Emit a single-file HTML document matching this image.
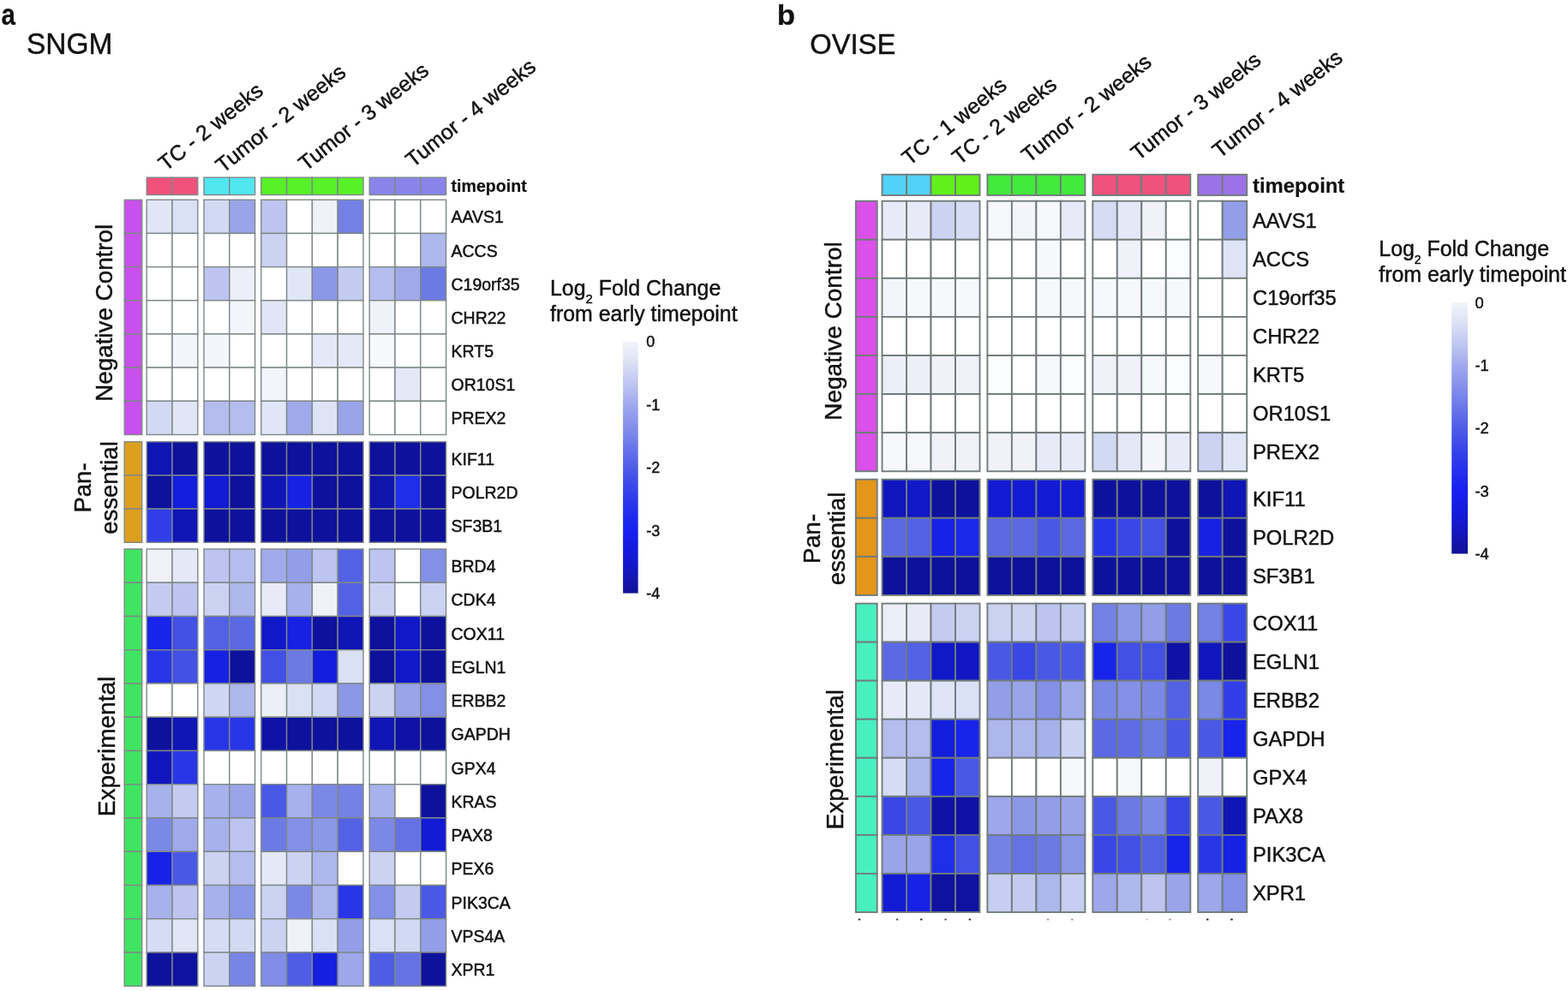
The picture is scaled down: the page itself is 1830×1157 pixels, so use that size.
<!DOCTYPE html>
<html><head><meta charset="utf-8"><title>Heatmaps</title>
<style>
html,body{margin:0;padding:0;background:#fff;}
body{width:1830px;height:1157px;overflow:hidden;}
svg{display:block;}
svg text{font-family:'Liberation Sans', Arial, Helvetica, sans-serif;fill:#111;stroke:#111;stroke-width:0.45px;}
svg text[font-weight=bold]{stroke-width:0.2px;}
</style></head><body>
<svg width="1830" height="1157" viewBox="0 0 1830 1157">
<rect x="0" y="0" width="1830" height="1157" fill="#ffffff"/>
<rect x="171.20" y="233.30" width="29.80" height="39.17" fill="#e1e6f6" stroke="#7e8888" stroke-width="1.40"/>
<rect x="201.00" y="233.30" width="29.80" height="39.17" fill="#dae0f5" stroke="#7e8888" stroke-width="1.40"/>
<rect x="238.00" y="233.30" width="29.80" height="39.17" fill="#d2d9f3" stroke="#7e8888" stroke-width="1.40"/>
<rect x="267.80" y="233.30" width="29.80" height="39.17" fill="#9aa4e9" stroke="#7e8888" stroke-width="1.40"/>
<rect x="304.80" y="233.30" width="29.80" height="39.17" fill="#bcc4ef" stroke="#7e8888" stroke-width="1.40"/>
<rect x="334.60" y="233.30" width="29.80" height="39.17" fill="#ffffff" stroke="#7e8888" stroke-width="1.40"/>
<rect x="364.40" y="233.30" width="29.80" height="39.17" fill="#f0f1f9" stroke="#7e8888" stroke-width="1.40"/>
<rect x="394.20" y="233.30" width="29.80" height="39.17" fill="#7481e5" stroke="#7e8888" stroke-width="1.40"/>
<rect x="431.20" y="233.30" width="29.80" height="39.17" fill="#ffffff" stroke="#7e8888" stroke-width="1.40"/>
<rect x="461.00" y="233.30" width="29.80" height="39.17" fill="#ffffff" stroke="#7e8888" stroke-width="1.40"/>
<rect x="490.80" y="233.30" width="29.80" height="39.17" fill="#ffffff" stroke="#7e8888" stroke-width="1.40"/>
<text x="526.50" y="260.38" font-size="19.50">AAVS1</text>
<rect x="171.20" y="272.47" width="29.80" height="39.17" fill="#ffffff" stroke="#7e8888" stroke-width="1.40"/>
<rect x="201.00" y="272.47" width="29.80" height="39.17" fill="#ffffff" stroke="#7e8888" stroke-width="1.40"/>
<rect x="238.00" y="272.47" width="29.80" height="39.17" fill="#ffffff" stroke="#7e8888" stroke-width="1.40"/>
<rect x="267.80" y="272.47" width="29.80" height="39.17" fill="#ffffff" stroke="#7e8888" stroke-width="1.40"/>
<rect x="304.80" y="272.47" width="29.80" height="39.17" fill="#cbd2f2" stroke="#7e8888" stroke-width="1.40"/>
<rect x="334.60" y="272.47" width="29.80" height="39.17" fill="#ffffff" stroke="#7e8888" stroke-width="1.40"/>
<rect x="364.40" y="272.47" width="29.80" height="39.17" fill="#ffffff" stroke="#7e8888" stroke-width="1.40"/>
<rect x="394.20" y="272.47" width="29.80" height="39.17" fill="#ffffff" stroke="#7e8888" stroke-width="1.40"/>
<rect x="431.20" y="272.47" width="29.80" height="39.17" fill="#ffffff" stroke="#7e8888" stroke-width="1.40"/>
<rect x="461.00" y="272.47" width="29.80" height="39.17" fill="#ffffff" stroke="#7e8888" stroke-width="1.40"/>
<rect x="490.80" y="272.47" width="29.80" height="39.17" fill="#adb7ec" stroke="#7e8888" stroke-width="1.40"/>
<text x="526.50" y="299.56" font-size="19.50">ACCS</text>
<rect x="171.20" y="311.64" width="29.80" height="39.17" fill="#ffffff" stroke="#7e8888" stroke-width="1.40"/>
<rect x="201.00" y="311.64" width="29.80" height="39.17" fill="#ffffff" stroke="#7e8888" stroke-width="1.40"/>
<rect x="238.00" y="311.64" width="29.80" height="39.17" fill="#bcc4ef" stroke="#7e8888" stroke-width="1.40"/>
<rect x="267.80" y="311.64" width="29.80" height="39.17" fill="#eceef8" stroke="#7e8888" stroke-width="1.40"/>
<rect x="304.80" y="311.64" width="29.80" height="39.17" fill="#ffffff" stroke="#7e8888" stroke-width="1.40"/>
<rect x="334.60" y="311.64" width="29.80" height="39.17" fill="#e1e6f6" stroke="#7e8888" stroke-width="1.40"/>
<rect x="364.40" y="311.64" width="29.80" height="39.17" fill="#8b97e7" stroke="#7e8888" stroke-width="1.40"/>
<rect x="394.20" y="311.64" width="29.80" height="39.17" fill="#c3cbf0" stroke="#7e8888" stroke-width="1.40"/>
<rect x="431.20" y="311.64" width="29.80" height="39.17" fill="#b4bded" stroke="#7e8888" stroke-width="1.40"/>
<rect x="461.00" y="311.64" width="29.80" height="39.17" fill="#a0aaea" stroke="#7e8888" stroke-width="1.40"/>
<rect x="490.80" y="311.64" width="29.80" height="39.17" fill="#6c7ae4" stroke="#7e8888" stroke-width="1.40"/>
<text x="526.50" y="338.72" font-size="19.50">C19orf35</text>
<rect x="171.20" y="350.81" width="29.80" height="39.17" fill="#ffffff" stroke="#7e8888" stroke-width="1.40"/>
<rect x="201.00" y="350.81" width="29.80" height="39.17" fill="#ffffff" stroke="#7e8888" stroke-width="1.40"/>
<rect x="238.00" y="350.81" width="29.80" height="39.17" fill="#ffffff" stroke="#7e8888" stroke-width="1.40"/>
<rect x="267.80" y="350.81" width="29.80" height="39.17" fill="#f4f5fb" stroke="#7e8888" stroke-width="1.40"/>
<rect x="304.80" y="350.81" width="29.80" height="39.17" fill="#e1e6f6" stroke="#7e8888" stroke-width="1.40"/>
<rect x="334.60" y="350.81" width="29.80" height="39.17" fill="#ffffff" stroke="#7e8888" stroke-width="1.40"/>
<rect x="364.40" y="350.81" width="29.80" height="39.17" fill="#ffffff" stroke="#7e8888" stroke-width="1.40"/>
<rect x="394.20" y="350.81" width="29.80" height="39.17" fill="#ffffff" stroke="#7e8888" stroke-width="1.40"/>
<rect x="431.20" y="350.81" width="29.80" height="39.17" fill="#f0f1f9" stroke="#7e8888" stroke-width="1.40"/>
<rect x="461.00" y="350.81" width="29.80" height="39.17" fill="#ffffff" stroke="#7e8888" stroke-width="1.40"/>
<rect x="490.80" y="350.81" width="29.80" height="39.17" fill="#ffffff" stroke="#7e8888" stroke-width="1.40"/>
<text x="526.50" y="377.89" font-size="19.50">CHR22</text>
<rect x="171.20" y="389.98" width="29.80" height="39.17" fill="#ffffff" stroke="#7e8888" stroke-width="1.40"/>
<rect x="201.00" y="389.98" width="29.80" height="39.17" fill="#f4f5fb" stroke="#7e8888" stroke-width="1.40"/>
<rect x="238.00" y="389.98" width="29.80" height="39.17" fill="#f4f5fb" stroke="#7e8888" stroke-width="1.40"/>
<rect x="267.80" y="389.98" width="29.80" height="39.17" fill="#ffffff" stroke="#7e8888" stroke-width="1.40"/>
<rect x="304.80" y="389.98" width="29.80" height="39.17" fill="#ffffff" stroke="#7e8888" stroke-width="1.40"/>
<rect x="334.60" y="389.98" width="29.80" height="39.17" fill="#ffffff" stroke="#7e8888" stroke-width="1.40"/>
<rect x="364.40" y="389.98" width="29.80" height="39.17" fill="#e5e8f7" stroke="#7e8888" stroke-width="1.40"/>
<rect x="394.20" y="389.98" width="29.80" height="39.17" fill="#e5e8f7" stroke="#7e8888" stroke-width="1.40"/>
<rect x="431.20" y="389.98" width="29.80" height="39.17" fill="#f7f8fc" stroke="#7e8888" stroke-width="1.40"/>
<rect x="461.00" y="389.98" width="29.80" height="39.17" fill="#ffffff" stroke="#7e8888" stroke-width="1.40"/>
<rect x="490.80" y="389.98" width="29.80" height="39.17" fill="#ffffff" stroke="#7e8888" stroke-width="1.40"/>
<text x="526.50" y="417.06" font-size="19.50">KRT5</text>
<rect x="171.20" y="429.15" width="29.80" height="39.17" fill="#ffffff" stroke="#7e8888" stroke-width="1.40"/>
<rect x="201.00" y="429.15" width="29.80" height="39.17" fill="#ffffff" stroke="#7e8888" stroke-width="1.40"/>
<rect x="238.00" y="429.15" width="29.80" height="39.17" fill="#ffffff" stroke="#7e8888" stroke-width="1.40"/>
<rect x="267.80" y="429.15" width="29.80" height="39.17" fill="#ffffff" stroke="#7e8888" stroke-width="1.40"/>
<rect x="304.80" y="429.15" width="29.80" height="39.17" fill="#f4f5fb" stroke="#7e8888" stroke-width="1.40"/>
<rect x="334.60" y="429.15" width="29.80" height="39.17" fill="#ffffff" stroke="#7e8888" stroke-width="1.40"/>
<rect x="364.40" y="429.15" width="29.80" height="39.17" fill="#ffffff" stroke="#7e8888" stroke-width="1.40"/>
<rect x="394.20" y="429.15" width="29.80" height="39.17" fill="#ffffff" stroke="#7e8888" stroke-width="1.40"/>
<rect x="431.20" y="429.15" width="29.80" height="39.17" fill="#ffffff" stroke="#7e8888" stroke-width="1.40"/>
<rect x="461.00" y="429.15" width="29.80" height="39.17" fill="#e5e8f7" stroke="#7e8888" stroke-width="1.40"/>
<rect x="490.80" y="429.15" width="29.80" height="39.17" fill="#ffffff" stroke="#7e8888" stroke-width="1.40"/>
<text x="526.50" y="456.24" font-size="19.50">OR10S1</text>
<rect x="171.20" y="468.32" width="29.80" height="39.17" fill="#d2d9f3" stroke="#7e8888" stroke-width="1.40"/>
<rect x="201.00" y="468.32" width="29.80" height="39.17" fill="#e1e6f6" stroke="#7e8888" stroke-width="1.40"/>
<rect x="238.00" y="468.32" width="29.80" height="39.17" fill="#b4bded" stroke="#7e8888" stroke-width="1.40"/>
<rect x="267.80" y="468.32" width="29.80" height="39.17" fill="#b4bded" stroke="#7e8888" stroke-width="1.40"/>
<rect x="304.80" y="468.32" width="29.80" height="39.17" fill="#e1e6f6" stroke="#7e8888" stroke-width="1.40"/>
<rect x="334.60" y="468.32" width="29.80" height="39.17" fill="#a0aaea" stroke="#7e8888" stroke-width="1.40"/>
<rect x="364.40" y="468.32" width="29.80" height="39.17" fill="#dee3f6" stroke="#7e8888" stroke-width="1.40"/>
<rect x="394.20" y="468.32" width="29.80" height="39.17" fill="#9aa4e9" stroke="#7e8888" stroke-width="1.40"/>
<rect x="431.20" y="468.32" width="29.80" height="39.17" fill="#ffffff" stroke="#7e8888" stroke-width="1.40"/>
<rect x="461.00" y="468.32" width="29.80" height="39.17" fill="#ffffff" stroke="#7e8888" stroke-width="1.40"/>
<rect x="490.80" y="468.32" width="29.80" height="39.17" fill="#ffffff" stroke="#7e8888" stroke-width="1.40"/>
<text x="526.50" y="495.41" font-size="19.50">PREX2</text>
<rect x="171.20" y="515.80" width="29.80" height="39.17" fill="#1015b5" stroke="#7e8888" stroke-width="1.40"/>
<rect x="201.00" y="515.80" width="29.80" height="39.17" fill="#0e119b" stroke="#7e8888" stroke-width="1.40"/>
<rect x="238.00" y="515.80" width="29.80" height="39.17" fill="#0e119b" stroke="#7e8888" stroke-width="1.40"/>
<rect x="267.80" y="515.80" width="29.80" height="39.17" fill="#0e119b" stroke="#7e8888" stroke-width="1.40"/>
<rect x="304.80" y="515.80" width="29.80" height="39.17" fill="#0e119b" stroke="#7e8888" stroke-width="1.40"/>
<rect x="334.60" y="515.80" width="29.80" height="39.17" fill="#0e119b" stroke="#7e8888" stroke-width="1.40"/>
<rect x="364.40" y="515.80" width="29.80" height="39.17" fill="#0e119b" stroke="#7e8888" stroke-width="1.40"/>
<rect x="394.20" y="515.80" width="29.80" height="39.17" fill="#0e119b" stroke="#7e8888" stroke-width="1.40"/>
<rect x="431.20" y="515.80" width="29.80" height="39.17" fill="#0e119b" stroke="#7e8888" stroke-width="1.40"/>
<rect x="461.00" y="515.80" width="29.80" height="39.17" fill="#0e119b" stroke="#7e8888" stroke-width="1.40"/>
<rect x="490.80" y="515.80" width="29.80" height="39.17" fill="#0e119b" stroke="#7e8888" stroke-width="1.40"/>
<text x="526.50" y="542.88" font-size="19.50">KIF11</text>
<rect x="171.20" y="554.97" width="29.80" height="39.17" fill="#0e119b" stroke="#7e8888" stroke-width="1.40"/>
<rect x="201.00" y="554.97" width="29.80" height="39.17" fill="#131edc" stroke="#7e8888" stroke-width="1.40"/>
<rect x="238.00" y="554.97" width="29.80" height="39.17" fill="#121bd3" stroke="#7e8888" stroke-width="1.40"/>
<rect x="267.80" y="554.97" width="29.80" height="39.17" fill="#0e119b" stroke="#7e8888" stroke-width="1.40"/>
<rect x="304.80" y="554.97" width="29.80" height="39.17" fill="#1015b5" stroke="#7e8888" stroke-width="1.40"/>
<rect x="334.60" y="554.97" width="29.80" height="39.17" fill="#1621e3" stroke="#7e8888" stroke-width="1.40"/>
<rect x="364.40" y="554.97" width="29.80" height="39.17" fill="#0e119b" stroke="#7e8888" stroke-width="1.40"/>
<rect x="394.20" y="554.97" width="29.80" height="39.17" fill="#0e119b" stroke="#7e8888" stroke-width="1.40"/>
<rect x="431.20" y="554.97" width="29.80" height="39.17" fill="#0f14ac" stroke="#7e8888" stroke-width="1.40"/>
<rect x="461.00" y="554.97" width="29.80" height="39.17" fill="#202de9" stroke="#7e8888" stroke-width="1.40"/>
<rect x="490.80" y="554.97" width="29.80" height="39.17" fill="#0e119b" stroke="#7e8888" stroke-width="1.40"/>
<text x="526.50" y="582.05" font-size="19.50">POLR2D</text>
<rect x="171.20" y="594.14" width="29.80" height="39.17" fill="#313ee8" stroke="#7e8888" stroke-width="1.40"/>
<rect x="201.00" y="594.14" width="29.80" height="39.17" fill="#1015b5" stroke="#7e8888" stroke-width="1.40"/>
<rect x="238.00" y="594.14" width="29.80" height="39.17" fill="#0e119b" stroke="#7e8888" stroke-width="1.40"/>
<rect x="267.80" y="594.14" width="29.80" height="39.17" fill="#0e119b" stroke="#7e8888" stroke-width="1.40"/>
<rect x="304.80" y="594.14" width="29.80" height="39.17" fill="#0e119b" stroke="#7e8888" stroke-width="1.40"/>
<rect x="334.60" y="594.14" width="29.80" height="39.17" fill="#0e119b" stroke="#7e8888" stroke-width="1.40"/>
<rect x="364.40" y="594.14" width="29.80" height="39.17" fill="#0e119b" stroke="#7e8888" stroke-width="1.40"/>
<rect x="394.20" y="594.14" width="29.80" height="39.17" fill="#0e119b" stroke="#7e8888" stroke-width="1.40"/>
<rect x="431.20" y="594.14" width="29.80" height="39.17" fill="#0e119b" stroke="#7e8888" stroke-width="1.40"/>
<rect x="461.00" y="594.14" width="29.80" height="39.17" fill="#0e119b" stroke="#7e8888" stroke-width="1.40"/>
<rect x="490.80" y="594.14" width="29.80" height="39.17" fill="#0e119b" stroke="#7e8888" stroke-width="1.40"/>
<text x="526.50" y="621.23" font-size="19.50">SF3B1</text>
<rect x="171.20" y="641.00" width="29.80" height="39.25" fill="#f0f1f9" stroke="#7e8888" stroke-width="1.40"/>
<rect x="201.00" y="641.00" width="29.80" height="39.25" fill="#e5e8f7" stroke="#7e8888" stroke-width="1.40"/>
<rect x="238.00" y="641.00" width="29.80" height="39.25" fill="#bcc4ef" stroke="#7e8888" stroke-width="1.40"/>
<rect x="267.80" y="641.00" width="29.80" height="39.25" fill="#b4bded" stroke="#7e8888" stroke-width="1.40"/>
<rect x="304.80" y="641.00" width="29.80" height="39.25" fill="#a0aaea" stroke="#7e8888" stroke-width="1.40"/>
<rect x="334.60" y="641.00" width="29.80" height="39.25" fill="#939ee8" stroke="#7e8888" stroke-width="1.40"/>
<rect x="364.40" y="641.00" width="29.80" height="39.25" fill="#bcc4ef" stroke="#7e8888" stroke-width="1.40"/>
<rect x="394.20" y="641.00" width="29.80" height="39.25" fill="#5361e5" stroke="#7e8888" stroke-width="1.40"/>
<rect x="431.20" y="641.00" width="29.80" height="39.25" fill="#bcc4ef" stroke="#7e8888" stroke-width="1.40"/>
<rect x="461.00" y="641.00" width="29.80" height="39.25" fill="#ffffff" stroke="#7e8888" stroke-width="1.40"/>
<rect x="490.80" y="641.00" width="29.80" height="39.25" fill="#8390e6" stroke="#7e8888" stroke-width="1.40"/>
<text x="526.50" y="668.12" font-size="19.50">BRD4</text>
<rect x="171.20" y="680.25" width="29.80" height="39.25" fill="#c3cbf0" stroke="#7e8888" stroke-width="1.40"/>
<rect x="201.00" y="680.25" width="29.80" height="39.25" fill="#bcc4ef" stroke="#7e8888" stroke-width="1.40"/>
<rect x="238.00" y="680.25" width="29.80" height="39.25" fill="#cbd2f2" stroke="#7e8888" stroke-width="1.40"/>
<rect x="267.80" y="680.25" width="29.80" height="39.25" fill="#adb7ec" stroke="#7e8888" stroke-width="1.40"/>
<rect x="304.80" y="680.25" width="29.80" height="39.25" fill="#e8ebf7" stroke="#7e8888" stroke-width="1.40"/>
<rect x="334.60" y="680.25" width="29.80" height="39.25" fill="#a7b1eb" stroke="#7e8888" stroke-width="1.40"/>
<rect x="364.40" y="680.25" width="29.80" height="39.25" fill="#f0f1f9" stroke="#7e8888" stroke-width="1.40"/>
<rect x="394.20" y="680.25" width="29.80" height="39.25" fill="#5361e5" stroke="#7e8888" stroke-width="1.40"/>
<rect x="431.20" y="680.25" width="29.80" height="39.25" fill="#cbd2f2" stroke="#7e8888" stroke-width="1.40"/>
<rect x="461.00" y="680.25" width="29.80" height="39.25" fill="#ffffff" stroke="#7e8888" stroke-width="1.40"/>
<rect x="490.80" y="680.25" width="29.80" height="39.25" fill="#cbd2f2" stroke="#7e8888" stroke-width="1.40"/>
<text x="526.50" y="707.38" font-size="19.50">CDK4</text>
<rect x="171.20" y="719.50" width="29.80" height="39.25" fill="#1824ea" stroke="#7e8888" stroke-width="1.40"/>
<rect x="201.00" y="719.50" width="29.80" height="39.25" fill="#4250e6" stroke="#7e8888" stroke-width="1.40"/>
<rect x="238.00" y="719.50" width="29.80" height="39.25" fill="#5361e5" stroke="#7e8888" stroke-width="1.40"/>
<rect x="267.80" y="719.50" width="29.80" height="39.25" fill="#5b69e5" stroke="#7e8888" stroke-width="1.40"/>
<rect x="304.80" y="719.50" width="29.80" height="39.25" fill="#1118c8" stroke="#7e8888" stroke-width="1.40"/>
<rect x="334.60" y="719.50" width="29.80" height="39.25" fill="#1621e3" stroke="#7e8888" stroke-width="1.40"/>
<rect x="364.40" y="719.50" width="29.80" height="39.25" fill="#0e119b" stroke="#7e8888" stroke-width="1.40"/>
<rect x="394.20" y="719.50" width="29.80" height="39.25" fill="#1015b5" stroke="#7e8888" stroke-width="1.40"/>
<rect x="431.20" y="719.50" width="29.80" height="39.25" fill="#0e119b" stroke="#7e8888" stroke-width="1.40"/>
<rect x="461.00" y="719.50" width="29.80" height="39.25" fill="#1118c8" stroke="#7e8888" stroke-width="1.40"/>
<rect x="490.80" y="719.50" width="29.80" height="39.25" fill="#0e119b" stroke="#7e8888" stroke-width="1.40"/>
<text x="526.50" y="746.62" font-size="19.50">COX11</text>
<rect x="171.20" y="758.75" width="29.80" height="39.25" fill="#2936e8" stroke="#7e8888" stroke-width="1.40"/>
<rect x="201.00" y="758.75" width="29.80" height="39.25" fill="#4250e6" stroke="#7e8888" stroke-width="1.40"/>
<rect x="238.00" y="758.75" width="29.80" height="39.25" fill="#1621e3" stroke="#7e8888" stroke-width="1.40"/>
<rect x="267.80" y="758.75" width="29.80" height="39.25" fill="#0e119b" stroke="#7e8888" stroke-width="1.40"/>
<rect x="304.80" y="758.75" width="29.80" height="39.25" fill="#4250e6" stroke="#7e8888" stroke-width="1.40"/>
<rect x="334.60" y="758.75" width="29.80" height="39.25" fill="#6c7ae4" stroke="#7e8888" stroke-width="1.40"/>
<rect x="364.40" y="758.75" width="29.80" height="39.25" fill="#131edc" stroke="#7e8888" stroke-width="1.40"/>
<rect x="394.20" y="758.75" width="29.80" height="39.25" fill="#dae0f5" stroke="#7e8888" stroke-width="1.40"/>
<rect x="431.20" y="758.75" width="29.80" height="39.25" fill="#0e119b" stroke="#7e8888" stroke-width="1.40"/>
<rect x="461.00" y="758.75" width="29.80" height="39.25" fill="#1118c8" stroke="#7e8888" stroke-width="1.40"/>
<rect x="490.80" y="758.75" width="29.80" height="39.25" fill="#0e119b" stroke="#7e8888" stroke-width="1.40"/>
<text x="526.50" y="785.88" font-size="19.50">EGLN1</text>
<rect x="171.20" y="798.00" width="29.80" height="39.25" fill="#ffffff" stroke="#7e8888" stroke-width="1.40"/>
<rect x="201.00" y="798.00" width="29.80" height="39.25" fill="#ffffff" stroke="#7e8888" stroke-width="1.40"/>
<rect x="238.00" y="798.00" width="29.80" height="39.25" fill="#cfd6f3" stroke="#7e8888" stroke-width="1.40"/>
<rect x="267.80" y="798.00" width="29.80" height="39.25" fill="#adb7ec" stroke="#7e8888" stroke-width="1.40"/>
<rect x="304.80" y="798.00" width="29.80" height="39.25" fill="#eceef8" stroke="#7e8888" stroke-width="1.40"/>
<rect x="334.60" y="798.00" width="29.80" height="39.25" fill="#dae0f5" stroke="#7e8888" stroke-width="1.40"/>
<rect x="364.40" y="798.00" width="29.80" height="39.25" fill="#d2d9f3" stroke="#7e8888" stroke-width="1.40"/>
<rect x="394.20" y="798.00" width="29.80" height="39.25" fill="#8b97e7" stroke="#7e8888" stroke-width="1.40"/>
<rect x="431.20" y="798.00" width="29.80" height="39.25" fill="#cbd2f2" stroke="#7e8888" stroke-width="1.40"/>
<rect x="461.00" y="798.00" width="29.80" height="39.25" fill="#9aa4e9" stroke="#7e8888" stroke-width="1.40"/>
<rect x="490.80" y="798.00" width="29.80" height="39.25" fill="#8390e6" stroke="#7e8888" stroke-width="1.40"/>
<text x="526.50" y="825.12" font-size="19.50">ERBB2</text>
<rect x="171.20" y="837.25" width="29.80" height="39.25" fill="#0e119b" stroke="#7e8888" stroke-width="1.40"/>
<rect x="201.00" y="837.25" width="29.80" height="39.25" fill="#1015b5" stroke="#7e8888" stroke-width="1.40"/>
<rect x="238.00" y="837.25" width="29.80" height="39.25" fill="#2936e8" stroke="#7e8888" stroke-width="1.40"/>
<rect x="267.80" y="837.25" width="29.80" height="39.25" fill="#2936e8" stroke="#7e8888" stroke-width="1.40"/>
<rect x="304.80" y="837.25" width="29.80" height="39.25" fill="#0f12a4" stroke="#7e8888" stroke-width="1.40"/>
<rect x="334.60" y="837.25" width="29.80" height="39.25" fill="#0e119b" stroke="#7e8888" stroke-width="1.40"/>
<rect x="364.40" y="837.25" width="29.80" height="39.25" fill="#0e119b" stroke="#7e8888" stroke-width="1.40"/>
<rect x="394.20" y="837.25" width="29.80" height="39.25" fill="#0e119b" stroke="#7e8888" stroke-width="1.40"/>
<rect x="431.20" y="837.25" width="29.80" height="39.25" fill="#1015b5" stroke="#7e8888" stroke-width="1.40"/>
<rect x="461.00" y="837.25" width="29.80" height="39.25" fill="#0f12a4" stroke="#7e8888" stroke-width="1.40"/>
<rect x="490.80" y="837.25" width="29.80" height="39.25" fill="#0e119b" stroke="#7e8888" stroke-width="1.40"/>
<text x="526.50" y="864.38" font-size="19.50">GAPDH</text>
<rect x="171.20" y="876.50" width="29.80" height="39.25" fill="#1016be" stroke="#7e8888" stroke-width="1.40"/>
<rect x="201.00" y="876.50" width="29.80" height="39.25" fill="#2936e8" stroke="#7e8888" stroke-width="1.40"/>
<rect x="238.00" y="876.50" width="29.80" height="39.25" fill="#ffffff" stroke="#7e8888" stroke-width="1.40"/>
<rect x="267.80" y="876.50" width="29.80" height="39.25" fill="#ffffff" stroke="#7e8888" stroke-width="1.40"/>
<rect x="304.80" y="876.50" width="29.80" height="39.25" fill="#ffffff" stroke="#7e8888" stroke-width="1.40"/>
<rect x="334.60" y="876.50" width="29.80" height="39.25" fill="#ffffff" stroke="#7e8888" stroke-width="1.40"/>
<rect x="364.40" y="876.50" width="29.80" height="39.25" fill="#ffffff" stroke="#7e8888" stroke-width="1.40"/>
<rect x="394.20" y="876.50" width="29.80" height="39.25" fill="#ffffff" stroke="#7e8888" stroke-width="1.40"/>
<rect x="431.20" y="876.50" width="29.80" height="39.25" fill="#ffffff" stroke="#7e8888" stroke-width="1.40"/>
<rect x="461.00" y="876.50" width="29.80" height="39.25" fill="#ffffff" stroke="#7e8888" stroke-width="1.40"/>
<rect x="490.80" y="876.50" width="29.80" height="39.25" fill="#ffffff" stroke="#7e8888" stroke-width="1.40"/>
<text x="526.50" y="903.62" font-size="19.50">GPX4</text>
<rect x="171.20" y="915.75" width="29.80" height="39.25" fill="#a7b1eb" stroke="#7e8888" stroke-width="1.40"/>
<rect x="201.00" y="915.75" width="29.80" height="39.25" fill="#c3cbf0" stroke="#7e8888" stroke-width="1.40"/>
<rect x="238.00" y="915.75" width="29.80" height="39.25" fill="#a7b1eb" stroke="#7e8888" stroke-width="1.40"/>
<rect x="267.80" y="915.75" width="29.80" height="39.25" fill="#9aa4e9" stroke="#7e8888" stroke-width="1.40"/>
<rect x="304.80" y="915.75" width="29.80" height="39.25" fill="#4a58e6" stroke="#7e8888" stroke-width="1.40"/>
<rect x="334.60" y="915.75" width="29.80" height="39.25" fill="#a7b1eb" stroke="#7e8888" stroke-width="1.40"/>
<rect x="364.40" y="915.75" width="29.80" height="39.25" fill="#7c88e6" stroke="#7e8888" stroke-width="1.40"/>
<rect x="394.20" y="915.75" width="29.80" height="39.25" fill="#7481e5" stroke="#7e8888" stroke-width="1.40"/>
<rect x="431.20" y="915.75" width="29.80" height="39.25" fill="#a7b1eb" stroke="#7e8888" stroke-width="1.40"/>
<rect x="461.00" y="915.75" width="29.80" height="39.25" fill="#ffffff" stroke="#7e8888" stroke-width="1.40"/>
<rect x="490.80" y="915.75" width="29.80" height="39.25" fill="#0e119b" stroke="#7e8888" stroke-width="1.40"/>
<text x="526.50" y="942.88" font-size="19.50">KRAS</text>
<rect x="171.20" y="955.00" width="29.80" height="39.25" fill="#7c88e6" stroke="#7e8888" stroke-width="1.40"/>
<rect x="201.00" y="955.00" width="29.80" height="39.25" fill="#a0aaea" stroke="#7e8888" stroke-width="1.40"/>
<rect x="238.00" y="955.00" width="29.80" height="39.25" fill="#a7b1eb" stroke="#7e8888" stroke-width="1.40"/>
<rect x="267.80" y="955.00" width="29.80" height="39.25" fill="#bcc4ef" stroke="#7e8888" stroke-width="1.40"/>
<rect x="304.80" y="955.00" width="29.80" height="39.25" fill="#6c7ae4" stroke="#7e8888" stroke-width="1.40"/>
<rect x="334.60" y="955.00" width="29.80" height="39.25" fill="#8390e6" stroke="#7e8888" stroke-width="1.40"/>
<rect x="364.40" y="955.00" width="29.80" height="39.25" fill="#8b97e7" stroke="#7e8888" stroke-width="1.40"/>
<rect x="394.20" y="955.00" width="29.80" height="39.25" fill="#5361e5" stroke="#7e8888" stroke-width="1.40"/>
<rect x="431.20" y="955.00" width="29.80" height="39.25" fill="#7c88e6" stroke="#7e8888" stroke-width="1.40"/>
<rect x="461.00" y="955.00" width="29.80" height="39.25" fill="#6472e4" stroke="#7e8888" stroke-width="1.40"/>
<rect x="490.80" y="955.00" width="29.80" height="39.25" fill="#121bd3" stroke="#7e8888" stroke-width="1.40"/>
<text x="526.50" y="982.12" font-size="19.50">PAX8</text>
<rect x="171.20" y="994.25" width="29.80" height="39.25" fill="#1722e6" stroke="#7e8888" stroke-width="1.40"/>
<rect x="201.00" y="994.25" width="29.80" height="39.25" fill="#4a58e6" stroke="#7e8888" stroke-width="1.40"/>
<rect x="238.00" y="994.25" width="29.80" height="39.25" fill="#cbd2f2" stroke="#7e8888" stroke-width="1.40"/>
<rect x="267.80" y="994.25" width="29.80" height="39.25" fill="#b4bded" stroke="#7e8888" stroke-width="1.40"/>
<rect x="304.80" y="994.25" width="29.80" height="39.25" fill="#e5e8f7" stroke="#7e8888" stroke-width="1.40"/>
<rect x="334.60" y="994.25" width="29.80" height="39.25" fill="#cbd2f2" stroke="#7e8888" stroke-width="1.40"/>
<rect x="364.40" y="994.25" width="29.80" height="39.25" fill="#adb7ec" stroke="#7e8888" stroke-width="1.40"/>
<rect x="394.20" y="994.25" width="29.80" height="39.25" fill="#ffffff" stroke="#7e8888" stroke-width="1.40"/>
<rect x="431.20" y="994.25" width="29.80" height="39.25" fill="#cbd2f2" stroke="#7e8888" stroke-width="1.40"/>
<rect x="461.00" y="994.25" width="29.80" height="39.25" fill="#ffffff" stroke="#7e8888" stroke-width="1.40"/>
<rect x="490.80" y="994.25" width="29.80" height="39.25" fill="#ffffff" stroke="#7e8888" stroke-width="1.40"/>
<text x="526.50" y="1021.38" font-size="19.50">PEX6</text>
<rect x="171.20" y="1033.50" width="29.80" height="39.25" fill="#a7b1eb" stroke="#7e8888" stroke-width="1.40"/>
<rect x="201.00" y="1033.50" width="29.80" height="39.25" fill="#bcc4ef" stroke="#7e8888" stroke-width="1.40"/>
<rect x="238.00" y="1033.50" width="29.80" height="39.25" fill="#a7b1eb" stroke="#7e8888" stroke-width="1.40"/>
<rect x="267.80" y="1033.50" width="29.80" height="39.25" fill="#8b97e7" stroke="#7e8888" stroke-width="1.40"/>
<rect x="304.80" y="1033.50" width="29.80" height="39.25" fill="#cbd2f2" stroke="#7e8888" stroke-width="1.40"/>
<rect x="334.60" y="1033.50" width="29.80" height="39.25" fill="#7c88e6" stroke="#7e8888" stroke-width="1.40"/>
<rect x="364.40" y="1033.50" width="29.80" height="39.25" fill="#adb7ec" stroke="#7e8888" stroke-width="1.40"/>
<rect x="394.20" y="1033.50" width="29.80" height="39.25" fill="#2936e8" stroke="#7e8888" stroke-width="1.40"/>
<rect x="431.20" y="1033.50" width="29.80" height="39.25" fill="#8390e6" stroke="#7e8888" stroke-width="1.40"/>
<rect x="461.00" y="1033.50" width="29.80" height="39.25" fill="#c3cbf0" stroke="#7e8888" stroke-width="1.40"/>
<rect x="490.80" y="1033.50" width="29.80" height="39.25" fill="#4a58e6" stroke="#7e8888" stroke-width="1.40"/>
<text x="526.50" y="1060.62" font-size="19.50">PIK3CA</text>
<rect x="171.20" y="1072.75" width="29.80" height="39.25" fill="#d6dcf4" stroke="#7e8888" stroke-width="1.40"/>
<rect x="201.00" y="1072.75" width="29.80" height="39.25" fill="#e1e6f6" stroke="#7e8888" stroke-width="1.40"/>
<rect x="238.00" y="1072.75" width="29.80" height="39.25" fill="#d6dcf4" stroke="#7e8888" stroke-width="1.40"/>
<rect x="267.80" y="1072.75" width="29.80" height="39.25" fill="#d2d9f3" stroke="#7e8888" stroke-width="1.40"/>
<rect x="304.80" y="1072.75" width="29.80" height="39.25" fill="#cbd2f2" stroke="#7e8888" stroke-width="1.40"/>
<rect x="334.60" y="1072.75" width="29.80" height="39.25" fill="#f0f1f9" stroke="#7e8888" stroke-width="1.40"/>
<rect x="364.40" y="1072.75" width="29.80" height="39.25" fill="#dae0f5" stroke="#7e8888" stroke-width="1.40"/>
<rect x="394.20" y="1072.75" width="29.80" height="39.25" fill="#939ee8" stroke="#7e8888" stroke-width="1.40"/>
<rect x="431.20" y="1072.75" width="29.80" height="39.25" fill="#dae0f5" stroke="#7e8888" stroke-width="1.40"/>
<rect x="461.00" y="1072.75" width="29.80" height="39.25" fill="#d2d9f3" stroke="#7e8888" stroke-width="1.40"/>
<rect x="490.80" y="1072.75" width="29.80" height="39.25" fill="#939ee8" stroke="#7e8888" stroke-width="1.40"/>
<text x="526.50" y="1099.88" font-size="19.50">VPS4A</text>
<rect x="171.20" y="1112.00" width="29.80" height="39.25" fill="#0e119b" stroke="#7e8888" stroke-width="1.40"/>
<rect x="201.00" y="1112.00" width="29.80" height="39.25" fill="#0f129f" stroke="#7e8888" stroke-width="1.40"/>
<rect x="238.00" y="1112.00" width="29.80" height="39.25" fill="#cbd2f2" stroke="#7e8888" stroke-width="1.40"/>
<rect x="267.80" y="1112.00" width="29.80" height="39.25" fill="#7885e5" stroke="#7e8888" stroke-width="1.40"/>
<rect x="304.80" y="1112.00" width="29.80" height="39.25" fill="#808ce6" stroke="#7e8888" stroke-width="1.40"/>
<rect x="334.60" y="1112.00" width="29.80" height="39.25" fill="#4f5de5" stroke="#7e8888" stroke-width="1.40"/>
<rect x="364.40" y="1112.00" width="29.80" height="39.25" fill="#141fdf" stroke="#7e8888" stroke-width="1.40"/>
<rect x="394.20" y="1112.00" width="29.80" height="39.25" fill="#9da7ea" stroke="#7e8888" stroke-width="1.40"/>
<rect x="431.20" y="1112.00" width="29.80" height="39.25" fill="#4f5de5" stroke="#7e8888" stroke-width="1.40"/>
<rect x="461.00" y="1112.00" width="29.80" height="39.25" fill="#6472e4" stroke="#7e8888" stroke-width="1.40"/>
<rect x="490.80" y="1112.00" width="29.80" height="39.25" fill="#0e119b" stroke="#7e8888" stroke-width="1.40"/>
<text x="526.50" y="1139.12" font-size="19.50">XPR1</text>
<rect x="171.20" y="207.20" width="29.80" height="20.30" fill="#f0527c" stroke="#7e8888" stroke-width="1.40"/>
<rect x="201.00" y="207.20" width="29.80" height="20.30" fill="#f0527c" stroke="#7e8888" stroke-width="1.40"/>
<rect x="238.00" y="207.20" width="29.80" height="20.30" fill="#52e6f0" stroke="#7e8888" stroke-width="1.40"/>
<rect x="267.80" y="207.20" width="29.80" height="20.30" fill="#52e6f0" stroke="#7e8888" stroke-width="1.40"/>
<rect x="304.80" y="207.20" width="29.80" height="20.30" fill="#58f028" stroke="#7e8888" stroke-width="1.40"/>
<rect x="334.60" y="207.20" width="29.80" height="20.30" fill="#58f028" stroke="#7e8888" stroke-width="1.40"/>
<rect x="364.40" y="207.20" width="29.80" height="20.30" fill="#58f028" stroke="#7e8888" stroke-width="1.40"/>
<rect x="394.20" y="207.20" width="29.80" height="20.30" fill="#58f028" stroke="#7e8888" stroke-width="1.40"/>
<rect x="431.20" y="207.20" width="29.80" height="20.30" fill="#8a84ea" stroke="#7e8888" stroke-width="1.40"/>
<rect x="461.00" y="207.20" width="29.80" height="20.30" fill="#8a84ea" stroke="#7e8888" stroke-width="1.40"/>
<rect x="490.80" y="207.20" width="29.80" height="20.30" fill="#8a84ea" stroke="#7e8888" stroke-width="1.40"/>
<text x="526.50" y="224.30" font-size="19.60" font-weight="bold">timepoint</text>
<rect x="145.20" y="233.30" width="20.50" height="39.17" fill="#c850ec" stroke="#7e8888" stroke-width="1.40"/>
<rect x="145.20" y="272.47" width="20.50" height="39.17" fill="#c850ec" stroke="#7e8888" stroke-width="1.40"/>
<rect x="145.20" y="311.64" width="20.50" height="39.17" fill="#c850ec" stroke="#7e8888" stroke-width="1.40"/>
<rect x="145.20" y="350.81" width="20.50" height="39.17" fill="#c850ec" stroke="#7e8888" stroke-width="1.40"/>
<rect x="145.20" y="389.98" width="20.50" height="39.17" fill="#c850ec" stroke="#7e8888" stroke-width="1.40"/>
<rect x="145.20" y="429.15" width="20.50" height="39.17" fill="#c850ec" stroke="#7e8888" stroke-width="1.40"/>
<rect x="145.20" y="468.32" width="20.50" height="39.17" fill="#c850ec" stroke="#7e8888" stroke-width="1.40"/>
<rect x="145.20" y="515.80" width="20.50" height="39.17" fill="#dca020" stroke="#7e8888" stroke-width="1.40"/>
<rect x="145.20" y="554.97" width="20.50" height="39.17" fill="#dca020" stroke="#7e8888" stroke-width="1.40"/>
<rect x="145.20" y="594.14" width="20.50" height="39.17" fill="#dca020" stroke="#7e8888" stroke-width="1.40"/>
<rect x="145.20" y="641.00" width="20.50" height="39.25" fill="#40e462" stroke="#7e8888" stroke-width="1.40"/>
<rect x="145.20" y="680.25" width="20.50" height="39.25" fill="#40e462" stroke="#7e8888" stroke-width="1.40"/>
<rect x="145.20" y="719.50" width="20.50" height="39.25" fill="#40e462" stroke="#7e8888" stroke-width="1.40"/>
<rect x="145.20" y="758.75" width="20.50" height="39.25" fill="#40e462" stroke="#7e8888" stroke-width="1.40"/>
<rect x="145.20" y="798.00" width="20.50" height="39.25" fill="#40e462" stroke="#7e8888" stroke-width="1.40"/>
<rect x="145.20" y="837.25" width="20.50" height="39.25" fill="#40e462" stroke="#7e8888" stroke-width="1.40"/>
<rect x="145.20" y="876.50" width="20.50" height="39.25" fill="#40e462" stroke="#7e8888" stroke-width="1.40"/>
<rect x="145.20" y="915.75" width="20.50" height="39.25" fill="#40e462" stroke="#7e8888" stroke-width="1.40"/>
<rect x="145.20" y="955.00" width="20.50" height="39.25" fill="#40e462" stroke="#7e8888" stroke-width="1.40"/>
<rect x="145.20" y="994.25" width="20.50" height="39.25" fill="#40e462" stroke="#7e8888" stroke-width="1.40"/>
<rect x="145.20" y="1033.50" width="20.50" height="39.25" fill="#40e462" stroke="#7e8888" stroke-width="1.40"/>
<rect x="145.20" y="1072.75" width="20.50" height="39.25" fill="#40e462" stroke="#7e8888" stroke-width="1.40"/>
<rect x="145.20" y="1112.00" width="20.50" height="39.25" fill="#40e462" stroke="#7e8888" stroke-width="1.40"/>
<rect x="1029.50" y="234.70" width="28.50" height="45.08" fill="#e8ebf7" stroke="#717c7b" stroke-width="1.90"/>
<rect x="1058.00" y="234.70" width="28.50" height="45.08" fill="#e8ebf7" stroke="#717c7b" stroke-width="1.90"/>
<rect x="1086.50" y="234.70" width="28.50" height="45.08" fill="#cbd2f2" stroke="#717c7b" stroke-width="1.90"/>
<rect x="1115.00" y="234.70" width="28.50" height="45.08" fill="#d6dcf4" stroke="#717c7b" stroke-width="1.90"/>
<rect x="1152.40" y="234.70" width="28.50" height="45.08" fill="#f7f8fc" stroke="#717c7b" stroke-width="1.90"/>
<rect x="1180.90" y="234.70" width="28.50" height="45.08" fill="#f4f5fb" stroke="#717c7b" stroke-width="1.90"/>
<rect x="1209.40" y="234.70" width="28.50" height="45.08" fill="#f7f8fc" stroke="#717c7b" stroke-width="1.90"/>
<rect x="1237.90" y="234.70" width="28.50" height="45.08" fill="#e8ebf7" stroke="#717c7b" stroke-width="1.90"/>
<rect x="1275.30" y="234.70" width="28.50" height="45.08" fill="#d6dcf4" stroke="#717c7b" stroke-width="1.90"/>
<rect x="1303.80" y="234.70" width="28.50" height="45.08" fill="#e5e8f7" stroke="#717c7b" stroke-width="1.90"/>
<rect x="1332.30" y="234.70" width="28.50" height="45.08" fill="#f0f1f9" stroke="#717c7b" stroke-width="1.90"/>
<rect x="1360.80" y="234.70" width="28.50" height="45.08" fill="#ffffff" stroke="#717c7b" stroke-width="1.90"/>
<rect x="1398.20" y="234.70" width="28.50" height="45.08" fill="#ffffff" stroke="#717c7b" stroke-width="1.90"/>
<rect x="1426.70" y="234.70" width="28.50" height="45.08" fill="#939ee8" stroke="#717c7b" stroke-width="1.90"/>
<text x="1462.00" y="265.84" font-size="23.75">AAVS1</text>
<rect x="1029.50" y="279.78" width="28.50" height="45.08" fill="#ffffff" stroke="#717c7b" stroke-width="1.90"/>
<rect x="1058.00" y="279.78" width="28.50" height="45.08" fill="#ffffff" stroke="#717c7b" stroke-width="1.90"/>
<rect x="1086.50" y="279.78" width="28.50" height="45.08" fill="#ffffff" stroke="#717c7b" stroke-width="1.90"/>
<rect x="1115.00" y="279.78" width="28.50" height="45.08" fill="#ffffff" stroke="#717c7b" stroke-width="1.90"/>
<rect x="1152.40" y="279.78" width="28.50" height="45.08" fill="#ffffff" stroke="#717c7b" stroke-width="1.90"/>
<rect x="1180.90" y="279.78" width="28.50" height="45.08" fill="#ffffff" stroke="#717c7b" stroke-width="1.90"/>
<rect x="1209.40" y="279.78" width="28.50" height="45.08" fill="#f7f8fc" stroke="#717c7b" stroke-width="1.90"/>
<rect x="1237.90" y="279.78" width="28.50" height="45.08" fill="#ffffff" stroke="#717c7b" stroke-width="1.90"/>
<rect x="1275.30" y="279.78" width="28.50" height="45.08" fill="#ffffff" stroke="#717c7b" stroke-width="1.90"/>
<rect x="1303.80" y="279.78" width="28.50" height="45.08" fill="#f0f1f9" stroke="#717c7b" stroke-width="1.90"/>
<rect x="1332.30" y="279.78" width="28.50" height="45.08" fill="#ffffff" stroke="#717c7b" stroke-width="1.90"/>
<rect x="1360.80" y="279.78" width="28.50" height="45.08" fill="#fbfcfe" stroke="#717c7b" stroke-width="1.90"/>
<rect x="1398.20" y="279.78" width="28.50" height="45.08" fill="#ffffff" stroke="#717c7b" stroke-width="1.90"/>
<rect x="1426.70" y="279.78" width="28.50" height="45.08" fill="#dee3f6" stroke="#717c7b" stroke-width="1.90"/>
<text x="1462.00" y="310.92" font-size="23.75">ACCS</text>
<rect x="1029.50" y="324.86" width="28.50" height="45.08" fill="#f4f5fb" stroke="#717c7b" stroke-width="1.90"/>
<rect x="1058.00" y="324.86" width="28.50" height="45.08" fill="#f7f8fc" stroke="#717c7b" stroke-width="1.90"/>
<rect x="1086.50" y="324.86" width="28.50" height="45.08" fill="#f7f8fc" stroke="#717c7b" stroke-width="1.90"/>
<rect x="1115.00" y="324.86" width="28.50" height="45.08" fill="#f7f8fc" stroke="#717c7b" stroke-width="1.90"/>
<rect x="1152.40" y="324.86" width="28.50" height="45.08" fill="#ffffff" stroke="#717c7b" stroke-width="1.90"/>
<rect x="1180.90" y="324.86" width="28.50" height="45.08" fill="#ffffff" stroke="#717c7b" stroke-width="1.90"/>
<rect x="1209.40" y="324.86" width="28.50" height="45.08" fill="#f7f8fc" stroke="#717c7b" stroke-width="1.90"/>
<rect x="1237.90" y="324.86" width="28.50" height="45.08" fill="#f7f8fc" stroke="#717c7b" stroke-width="1.90"/>
<rect x="1275.30" y="324.86" width="28.50" height="45.08" fill="#f7f8fc" stroke="#717c7b" stroke-width="1.90"/>
<rect x="1303.80" y="324.86" width="28.50" height="45.08" fill="#f7f8fc" stroke="#717c7b" stroke-width="1.90"/>
<rect x="1332.30" y="324.86" width="28.50" height="45.08" fill="#f7f8fc" stroke="#717c7b" stroke-width="1.90"/>
<rect x="1360.80" y="324.86" width="28.50" height="45.08" fill="#f7f8fc" stroke="#717c7b" stroke-width="1.90"/>
<rect x="1398.20" y="324.86" width="28.50" height="45.08" fill="#ffffff" stroke="#717c7b" stroke-width="1.90"/>
<rect x="1426.70" y="324.86" width="28.50" height="45.08" fill="#ffffff" stroke="#717c7b" stroke-width="1.90"/>
<text x="1462.00" y="356.00" font-size="23.75">C19orf35</text>
<rect x="1029.50" y="369.94" width="28.50" height="45.08" fill="#ffffff" stroke="#717c7b" stroke-width="1.90"/>
<rect x="1058.00" y="369.94" width="28.50" height="45.08" fill="#ffffff" stroke="#717c7b" stroke-width="1.90"/>
<rect x="1086.50" y="369.94" width="28.50" height="45.08" fill="#ffffff" stroke="#717c7b" stroke-width="1.90"/>
<rect x="1115.00" y="369.94" width="28.50" height="45.08" fill="#ffffff" stroke="#717c7b" stroke-width="1.90"/>
<rect x="1152.40" y="369.94" width="28.50" height="45.08" fill="#ffffff" stroke="#717c7b" stroke-width="1.90"/>
<rect x="1180.90" y="369.94" width="28.50" height="45.08" fill="#ffffff" stroke="#717c7b" stroke-width="1.90"/>
<rect x="1209.40" y="369.94" width="28.50" height="45.08" fill="#ffffff" stroke="#717c7b" stroke-width="1.90"/>
<rect x="1237.90" y="369.94" width="28.50" height="45.08" fill="#ffffff" stroke="#717c7b" stroke-width="1.90"/>
<rect x="1275.30" y="369.94" width="28.50" height="45.08" fill="#ffffff" stroke="#717c7b" stroke-width="1.90"/>
<rect x="1303.80" y="369.94" width="28.50" height="45.08" fill="#ffffff" stroke="#717c7b" stroke-width="1.90"/>
<rect x="1332.30" y="369.94" width="28.50" height="45.08" fill="#ffffff" stroke="#717c7b" stroke-width="1.90"/>
<rect x="1360.80" y="369.94" width="28.50" height="45.08" fill="#ffffff" stroke="#717c7b" stroke-width="1.90"/>
<rect x="1398.20" y="369.94" width="28.50" height="45.08" fill="#ffffff" stroke="#717c7b" stroke-width="1.90"/>
<rect x="1426.70" y="369.94" width="28.50" height="45.08" fill="#ffffff" stroke="#717c7b" stroke-width="1.90"/>
<text x="1462.00" y="401.08" font-size="23.75">CHR22</text>
<rect x="1029.50" y="415.02" width="28.50" height="45.08" fill="#eceef8" stroke="#717c7b" stroke-width="1.90"/>
<rect x="1058.00" y="415.02" width="28.50" height="45.08" fill="#eceef8" stroke="#717c7b" stroke-width="1.90"/>
<rect x="1086.50" y="415.02" width="28.50" height="45.08" fill="#f0f1f9" stroke="#717c7b" stroke-width="1.90"/>
<rect x="1115.00" y="415.02" width="28.50" height="45.08" fill="#f0f1f9" stroke="#717c7b" stroke-width="1.90"/>
<rect x="1152.40" y="415.02" width="28.50" height="45.08" fill="#fbfcfe" stroke="#717c7b" stroke-width="1.90"/>
<rect x="1180.90" y="415.02" width="28.50" height="45.08" fill="#ffffff" stroke="#717c7b" stroke-width="1.90"/>
<rect x="1209.40" y="415.02" width="28.50" height="45.08" fill="#f7f8fc" stroke="#717c7b" stroke-width="1.90"/>
<rect x="1237.90" y="415.02" width="28.50" height="45.08" fill="#fbfcfe" stroke="#717c7b" stroke-width="1.90"/>
<rect x="1275.30" y="415.02" width="28.50" height="45.08" fill="#f0f1f9" stroke="#717c7b" stroke-width="1.90"/>
<rect x="1303.80" y="415.02" width="28.50" height="45.08" fill="#f0f1f9" stroke="#717c7b" stroke-width="1.90"/>
<rect x="1332.30" y="415.02" width="28.50" height="45.08" fill="#f7f8fc" stroke="#717c7b" stroke-width="1.90"/>
<rect x="1360.80" y="415.02" width="28.50" height="45.08" fill="#fbfcfe" stroke="#717c7b" stroke-width="1.90"/>
<rect x="1398.20" y="415.02" width="28.50" height="45.08" fill="#f7f8fc" stroke="#717c7b" stroke-width="1.90"/>
<rect x="1426.70" y="415.02" width="28.50" height="45.08" fill="#ffffff" stroke="#717c7b" stroke-width="1.90"/>
<text x="1462.00" y="446.16" font-size="23.75">KRT5</text>
<rect x="1029.50" y="460.10" width="28.50" height="45.08" fill="#ffffff" stroke="#717c7b" stroke-width="1.90"/>
<rect x="1058.00" y="460.10" width="28.50" height="45.08" fill="#ffffff" stroke="#717c7b" stroke-width="1.90"/>
<rect x="1086.50" y="460.10" width="28.50" height="45.08" fill="#ffffff" stroke="#717c7b" stroke-width="1.90"/>
<rect x="1115.00" y="460.10" width="28.50" height="45.08" fill="#ffffff" stroke="#717c7b" stroke-width="1.90"/>
<rect x="1152.40" y="460.10" width="28.50" height="45.08" fill="#ffffff" stroke="#717c7b" stroke-width="1.90"/>
<rect x="1180.90" y="460.10" width="28.50" height="45.08" fill="#ffffff" stroke="#717c7b" stroke-width="1.90"/>
<rect x="1209.40" y="460.10" width="28.50" height="45.08" fill="#ffffff" stroke="#717c7b" stroke-width="1.90"/>
<rect x="1237.90" y="460.10" width="28.50" height="45.08" fill="#ffffff" stroke="#717c7b" stroke-width="1.90"/>
<rect x="1275.30" y="460.10" width="28.50" height="45.08" fill="#ffffff" stroke="#717c7b" stroke-width="1.90"/>
<rect x="1303.80" y="460.10" width="28.50" height="45.08" fill="#ffffff" stroke="#717c7b" stroke-width="1.90"/>
<rect x="1332.30" y="460.10" width="28.50" height="45.08" fill="#ffffff" stroke="#717c7b" stroke-width="1.90"/>
<rect x="1360.80" y="460.10" width="28.50" height="45.08" fill="#ffffff" stroke="#717c7b" stroke-width="1.90"/>
<rect x="1398.20" y="460.10" width="28.50" height="45.08" fill="#ffffff" stroke="#717c7b" stroke-width="1.90"/>
<rect x="1426.70" y="460.10" width="28.50" height="45.08" fill="#ffffff" stroke="#717c7b" stroke-width="1.90"/>
<text x="1462.00" y="491.24" font-size="23.75">OR10S1</text>
<rect x="1029.50" y="505.18" width="28.50" height="45.08" fill="#f7f8fc" stroke="#717c7b" stroke-width="1.90"/>
<rect x="1058.00" y="505.18" width="28.50" height="45.08" fill="#f7f8fc" stroke="#717c7b" stroke-width="1.90"/>
<rect x="1086.50" y="505.18" width="28.50" height="45.08" fill="#f0f1f9" stroke="#717c7b" stroke-width="1.90"/>
<rect x="1115.00" y="505.18" width="28.50" height="45.08" fill="#f0f1f9" stroke="#717c7b" stroke-width="1.90"/>
<rect x="1152.40" y="505.18" width="28.50" height="45.08" fill="#f0f1f9" stroke="#717c7b" stroke-width="1.90"/>
<rect x="1180.90" y="505.18" width="28.50" height="45.08" fill="#f0f1f9" stroke="#717c7b" stroke-width="1.90"/>
<rect x="1209.40" y="505.18" width="28.50" height="45.08" fill="#e8ebf7" stroke="#717c7b" stroke-width="1.90"/>
<rect x="1237.90" y="505.18" width="28.50" height="45.08" fill="#e8ebf7" stroke="#717c7b" stroke-width="1.90"/>
<rect x="1275.30" y="505.18" width="28.50" height="45.08" fill="#d2d9f3" stroke="#717c7b" stroke-width="1.90"/>
<rect x="1303.80" y="505.18" width="28.50" height="45.08" fill="#e5e8f7" stroke="#717c7b" stroke-width="1.90"/>
<rect x="1332.30" y="505.18" width="28.50" height="45.08" fill="#f4f5fb" stroke="#717c7b" stroke-width="1.90"/>
<rect x="1360.80" y="505.18" width="28.50" height="45.08" fill="#e8ebf7" stroke="#717c7b" stroke-width="1.90"/>
<rect x="1398.20" y="505.18" width="28.50" height="45.08" fill="#cbd2f2" stroke="#717c7b" stroke-width="1.90"/>
<rect x="1426.70" y="505.18" width="28.50" height="45.08" fill="#e1e6f6" stroke="#717c7b" stroke-width="1.90"/>
<text x="1462.00" y="536.32" font-size="23.75">PREX2</text>
<rect x="1029.50" y="559.70" width="28.50" height="45.08" fill="#1016be" stroke="#717c7b" stroke-width="1.90"/>
<rect x="1058.00" y="559.70" width="28.50" height="45.08" fill="#1118c8" stroke="#717c7b" stroke-width="1.90"/>
<rect x="1086.50" y="559.70" width="28.50" height="45.08" fill="#0e119b" stroke="#717c7b" stroke-width="1.90"/>
<rect x="1115.00" y="559.70" width="28.50" height="45.08" fill="#0e119b" stroke="#717c7b" stroke-width="1.90"/>
<rect x="1152.40" y="559.70" width="28.50" height="45.08" fill="#121bd3" stroke="#717c7b" stroke-width="1.90"/>
<rect x="1180.90" y="559.70" width="28.50" height="45.08" fill="#121bd3" stroke="#717c7b" stroke-width="1.90"/>
<rect x="1209.40" y="559.70" width="28.50" height="45.08" fill="#121bd3" stroke="#717c7b" stroke-width="1.90"/>
<rect x="1237.90" y="559.70" width="28.50" height="45.08" fill="#121bd3" stroke="#717c7b" stroke-width="1.90"/>
<rect x="1275.30" y="559.70" width="28.50" height="45.08" fill="#0e119b" stroke="#717c7b" stroke-width="1.90"/>
<rect x="1303.80" y="559.70" width="28.50" height="45.08" fill="#0e119b" stroke="#717c7b" stroke-width="1.90"/>
<rect x="1332.30" y="559.70" width="28.50" height="45.08" fill="#0e119b" stroke="#717c7b" stroke-width="1.90"/>
<rect x="1360.80" y="559.70" width="28.50" height="45.08" fill="#0e119b" stroke="#717c7b" stroke-width="1.90"/>
<rect x="1398.20" y="559.70" width="28.50" height="45.08" fill="#0e119b" stroke="#717c7b" stroke-width="1.90"/>
<rect x="1426.70" y="559.70" width="28.50" height="45.08" fill="#1015b5" stroke="#717c7b" stroke-width="1.90"/>
<text x="1462.00" y="590.84" font-size="23.75">KIF11</text>
<rect x="1029.50" y="604.78" width="28.50" height="45.08" fill="#5b69e5" stroke="#717c7b" stroke-width="1.90"/>
<rect x="1058.00" y="604.78" width="28.50" height="45.08" fill="#5361e5" stroke="#717c7b" stroke-width="1.90"/>
<rect x="1086.50" y="604.78" width="28.50" height="45.08" fill="#1722e6" stroke="#717c7b" stroke-width="1.90"/>
<rect x="1115.00" y="604.78" width="28.50" height="45.08" fill="#1c28ea" stroke="#717c7b" stroke-width="1.90"/>
<rect x="1152.40" y="604.78" width="28.50" height="45.08" fill="#5b69e5" stroke="#717c7b" stroke-width="1.90"/>
<rect x="1180.90" y="604.78" width="28.50" height="45.08" fill="#5b69e5" stroke="#717c7b" stroke-width="1.90"/>
<rect x="1209.40" y="604.78" width="28.50" height="45.08" fill="#4a58e6" stroke="#717c7b" stroke-width="1.90"/>
<rect x="1237.90" y="604.78" width="28.50" height="45.08" fill="#5b69e5" stroke="#717c7b" stroke-width="1.90"/>
<rect x="1275.30" y="604.78" width="28.50" height="45.08" fill="#2936e8" stroke="#717c7b" stroke-width="1.90"/>
<rect x="1303.80" y="604.78" width="28.50" height="45.08" fill="#3a47e7" stroke="#717c7b" stroke-width="1.90"/>
<rect x="1332.30" y="604.78" width="28.50" height="45.08" fill="#4250e6" stroke="#717c7b" stroke-width="1.90"/>
<rect x="1360.80" y="604.78" width="28.50" height="45.08" fill="#0e119b" stroke="#717c7b" stroke-width="1.90"/>
<rect x="1398.20" y="604.78" width="28.50" height="45.08" fill="#1621e3" stroke="#717c7b" stroke-width="1.90"/>
<rect x="1426.70" y="604.78" width="28.50" height="45.08" fill="#0e119b" stroke="#717c7b" stroke-width="1.90"/>
<text x="1462.00" y="635.92" font-size="23.75">POLR2D</text>
<rect x="1029.50" y="649.86" width="28.50" height="45.08" fill="#0e119b" stroke="#717c7b" stroke-width="1.90"/>
<rect x="1058.00" y="649.86" width="28.50" height="45.08" fill="#0e119b" stroke="#717c7b" stroke-width="1.90"/>
<rect x="1086.50" y="649.86" width="28.50" height="45.08" fill="#0e119b" stroke="#717c7b" stroke-width="1.90"/>
<rect x="1115.00" y="649.86" width="28.50" height="45.08" fill="#0e119b" stroke="#717c7b" stroke-width="1.90"/>
<rect x="1152.40" y="649.86" width="28.50" height="45.08" fill="#0e119b" stroke="#717c7b" stroke-width="1.90"/>
<rect x="1180.90" y="649.86" width="28.50" height="45.08" fill="#0e119b" stroke="#717c7b" stroke-width="1.90"/>
<rect x="1209.40" y="649.86" width="28.50" height="45.08" fill="#0e119b" stroke="#717c7b" stroke-width="1.90"/>
<rect x="1237.90" y="649.86" width="28.50" height="45.08" fill="#0e119b" stroke="#717c7b" stroke-width="1.90"/>
<rect x="1275.30" y="649.86" width="28.50" height="45.08" fill="#0e119b" stroke="#717c7b" stroke-width="1.90"/>
<rect x="1303.80" y="649.86" width="28.50" height="45.08" fill="#0e119b" stroke="#717c7b" stroke-width="1.90"/>
<rect x="1332.30" y="649.86" width="28.50" height="45.08" fill="#0e119b" stroke="#717c7b" stroke-width="1.90"/>
<rect x="1360.80" y="649.86" width="28.50" height="45.08" fill="#0e119b" stroke="#717c7b" stroke-width="1.90"/>
<rect x="1398.20" y="649.86" width="28.50" height="45.08" fill="#0e119b" stroke="#717c7b" stroke-width="1.90"/>
<rect x="1426.70" y="649.86" width="28.50" height="45.08" fill="#0e119b" stroke="#717c7b" stroke-width="1.90"/>
<text x="1462.00" y="681.00" font-size="23.75">SF3B1</text>
<rect x="1029.50" y="704.60" width="28.50" height="45.05" fill="#eceef8" stroke="#717c7b" stroke-width="1.90"/>
<rect x="1058.00" y="704.60" width="28.50" height="45.05" fill="#e8ebf7" stroke="#717c7b" stroke-width="1.90"/>
<rect x="1086.50" y="704.60" width="28.50" height="45.05" fill="#c3cbf0" stroke="#717c7b" stroke-width="1.90"/>
<rect x="1115.00" y="704.60" width="28.50" height="45.05" fill="#cbd2f2" stroke="#717c7b" stroke-width="1.90"/>
<rect x="1152.40" y="704.60" width="28.50" height="45.05" fill="#cbd2f2" stroke="#717c7b" stroke-width="1.90"/>
<rect x="1180.90" y="704.60" width="28.50" height="45.05" fill="#cbd2f2" stroke="#717c7b" stroke-width="1.90"/>
<rect x="1209.40" y="704.60" width="28.50" height="45.05" fill="#bcc4ef" stroke="#717c7b" stroke-width="1.90"/>
<rect x="1237.90" y="704.60" width="28.50" height="45.05" fill="#c3cbf0" stroke="#717c7b" stroke-width="1.90"/>
<rect x="1275.30" y="704.60" width="28.50" height="45.05" fill="#7481e5" stroke="#717c7b" stroke-width="1.90"/>
<rect x="1303.80" y="704.60" width="28.50" height="45.05" fill="#8b97e7" stroke="#717c7b" stroke-width="1.90"/>
<rect x="1332.30" y="704.60" width="28.50" height="45.05" fill="#939ee8" stroke="#717c7b" stroke-width="1.90"/>
<rect x="1360.80" y="704.60" width="28.50" height="45.05" fill="#6c7ae4" stroke="#717c7b" stroke-width="1.90"/>
<rect x="1398.20" y="704.60" width="28.50" height="45.05" fill="#7481e5" stroke="#717c7b" stroke-width="1.90"/>
<rect x="1426.70" y="704.60" width="28.50" height="45.05" fill="#3a47e7" stroke="#717c7b" stroke-width="1.90"/>
<text x="1462.00" y="735.73" font-size="23.75">COX11</text>
<rect x="1029.50" y="749.65" width="28.50" height="45.05" fill="#5b69e5" stroke="#717c7b" stroke-width="1.90"/>
<rect x="1058.00" y="749.65" width="28.50" height="45.05" fill="#5361e5" stroke="#717c7b" stroke-width="1.90"/>
<rect x="1086.50" y="749.65" width="28.50" height="45.05" fill="#1118c8" stroke="#717c7b" stroke-width="1.90"/>
<rect x="1115.00" y="749.65" width="28.50" height="45.05" fill="#1017c3" stroke="#717c7b" stroke-width="1.90"/>
<rect x="1152.40" y="749.65" width="28.50" height="45.05" fill="#4a58e6" stroke="#717c7b" stroke-width="1.90"/>
<rect x="1180.90" y="749.65" width="28.50" height="45.05" fill="#3a47e7" stroke="#717c7b" stroke-width="1.90"/>
<rect x="1209.40" y="749.65" width="28.50" height="45.05" fill="#4a58e6" stroke="#717c7b" stroke-width="1.90"/>
<rect x="1237.90" y="749.65" width="28.50" height="45.05" fill="#4a58e6" stroke="#717c7b" stroke-width="1.90"/>
<rect x="1275.30" y="749.65" width="28.50" height="45.05" fill="#1824ea" stroke="#717c7b" stroke-width="1.90"/>
<rect x="1303.80" y="749.65" width="28.50" height="45.05" fill="#4250e6" stroke="#717c7b" stroke-width="1.90"/>
<rect x="1332.30" y="749.65" width="28.50" height="45.05" fill="#4250e6" stroke="#717c7b" stroke-width="1.90"/>
<rect x="1360.80" y="749.65" width="28.50" height="45.05" fill="#0f12a4" stroke="#717c7b" stroke-width="1.90"/>
<rect x="1398.20" y="749.65" width="28.50" height="45.05" fill="#1016be" stroke="#717c7b" stroke-width="1.90"/>
<rect x="1426.70" y="749.65" width="28.50" height="45.05" fill="#0e119b" stroke="#717c7b" stroke-width="1.90"/>
<text x="1462.00" y="780.77" font-size="23.75">EGLN1</text>
<rect x="1029.50" y="794.70" width="28.50" height="45.05" fill="#e8ebf7" stroke="#717c7b" stroke-width="1.90"/>
<rect x="1058.00" y="794.70" width="28.50" height="45.05" fill="#e5e8f7" stroke="#717c7b" stroke-width="1.90"/>
<rect x="1086.50" y="794.70" width="28.50" height="45.05" fill="#dee3f6" stroke="#717c7b" stroke-width="1.90"/>
<rect x="1115.00" y="794.70" width="28.50" height="45.05" fill="#dae0f5" stroke="#717c7b" stroke-width="1.90"/>
<rect x="1152.40" y="794.70" width="28.50" height="45.05" fill="#939ee8" stroke="#717c7b" stroke-width="1.90"/>
<rect x="1180.90" y="794.70" width="28.50" height="45.05" fill="#9aa4e9" stroke="#717c7b" stroke-width="1.90"/>
<rect x="1209.40" y="794.70" width="28.50" height="45.05" fill="#8390e6" stroke="#717c7b" stroke-width="1.90"/>
<rect x="1237.90" y="794.70" width="28.50" height="45.05" fill="#a0aaea" stroke="#717c7b" stroke-width="1.90"/>
<rect x="1275.30" y="794.70" width="28.50" height="45.05" fill="#7c88e6" stroke="#717c7b" stroke-width="1.90"/>
<rect x="1303.80" y="794.70" width="28.50" height="45.05" fill="#8390e6" stroke="#717c7b" stroke-width="1.90"/>
<rect x="1332.30" y="794.70" width="28.50" height="45.05" fill="#7c88e6" stroke="#717c7b" stroke-width="1.90"/>
<rect x="1360.80" y="794.70" width="28.50" height="45.05" fill="#5361e5" stroke="#717c7b" stroke-width="1.90"/>
<rect x="1398.20" y="794.70" width="28.50" height="45.05" fill="#7c88e6" stroke="#717c7b" stroke-width="1.90"/>
<rect x="1426.70" y="794.70" width="28.50" height="45.05" fill="#313ee8" stroke="#717c7b" stroke-width="1.90"/>
<text x="1462.00" y="825.83" font-size="23.75">ERBB2</text>
<rect x="1029.50" y="839.75" width="28.50" height="45.05" fill="#b4bded" stroke="#717c7b" stroke-width="1.90"/>
<rect x="1058.00" y="839.75" width="28.50" height="45.05" fill="#b4bded" stroke="#717c7b" stroke-width="1.90"/>
<rect x="1086.50" y="839.75" width="28.50" height="45.05" fill="#131edc" stroke="#717c7b" stroke-width="1.90"/>
<rect x="1115.00" y="839.75" width="28.50" height="45.05" fill="#1824ea" stroke="#717c7b" stroke-width="1.90"/>
<rect x="1152.40" y="839.75" width="28.50" height="45.05" fill="#adb7ec" stroke="#717c7b" stroke-width="1.90"/>
<rect x="1180.90" y="839.75" width="28.50" height="45.05" fill="#adb7ec" stroke="#717c7b" stroke-width="1.90"/>
<rect x="1209.40" y="839.75" width="28.50" height="45.05" fill="#a7b1eb" stroke="#717c7b" stroke-width="1.90"/>
<rect x="1237.90" y="839.75" width="28.50" height="45.05" fill="#cbd2f2" stroke="#717c7b" stroke-width="1.90"/>
<rect x="1275.30" y="839.75" width="28.50" height="45.05" fill="#5b69e5" stroke="#717c7b" stroke-width="1.90"/>
<rect x="1303.80" y="839.75" width="28.50" height="45.05" fill="#5f6de5" stroke="#717c7b" stroke-width="1.90"/>
<rect x="1332.30" y="839.75" width="28.50" height="45.05" fill="#6c7ae4" stroke="#717c7b" stroke-width="1.90"/>
<rect x="1360.80" y="839.75" width="28.50" height="45.05" fill="#4a58e6" stroke="#717c7b" stroke-width="1.90"/>
<rect x="1398.20" y="839.75" width="28.50" height="45.05" fill="#4a58e6" stroke="#717c7b" stroke-width="1.90"/>
<rect x="1426.70" y="839.75" width="28.50" height="45.05" fill="#1824ea" stroke="#717c7b" stroke-width="1.90"/>
<text x="1462.00" y="870.88" font-size="23.75">GAPDH</text>
<rect x="1029.50" y="884.80" width="28.50" height="45.05" fill="#d6dcf4" stroke="#717c7b" stroke-width="1.90"/>
<rect x="1058.00" y="884.80" width="28.50" height="45.05" fill="#adb7ec" stroke="#717c7b" stroke-width="1.90"/>
<rect x="1086.50" y="884.80" width="28.50" height="45.05" fill="#1824ea" stroke="#717c7b" stroke-width="1.90"/>
<rect x="1115.00" y="884.80" width="28.50" height="45.05" fill="#4a58e6" stroke="#717c7b" stroke-width="1.90"/>
<rect x="1152.40" y="884.80" width="28.50" height="45.05" fill="#ffffff" stroke="#717c7b" stroke-width="1.90"/>
<rect x="1180.90" y="884.80" width="28.50" height="45.05" fill="#ffffff" stroke="#717c7b" stroke-width="1.90"/>
<rect x="1209.40" y="884.80" width="28.50" height="45.05" fill="#ffffff" stroke="#717c7b" stroke-width="1.90"/>
<rect x="1237.90" y="884.80" width="28.50" height="45.05" fill="#f7f8fc" stroke="#717c7b" stroke-width="1.90"/>
<rect x="1275.30" y="884.80" width="28.50" height="45.05" fill="#ffffff" stroke="#717c7b" stroke-width="1.90"/>
<rect x="1303.80" y="884.80" width="28.50" height="45.05" fill="#f7f8fc" stroke="#717c7b" stroke-width="1.90"/>
<rect x="1332.30" y="884.80" width="28.50" height="45.05" fill="#ffffff" stroke="#717c7b" stroke-width="1.90"/>
<rect x="1360.80" y="884.80" width="28.50" height="45.05" fill="#ffffff" stroke="#717c7b" stroke-width="1.90"/>
<rect x="1398.20" y="884.80" width="28.50" height="45.05" fill="#f0f1f9" stroke="#717c7b" stroke-width="1.90"/>
<rect x="1426.70" y="884.80" width="28.50" height="45.05" fill="#ffffff" stroke="#717c7b" stroke-width="1.90"/>
<text x="1462.00" y="915.92" font-size="23.75">GPX4</text>
<rect x="1029.50" y="929.85" width="28.50" height="45.05" fill="#3a47e7" stroke="#717c7b" stroke-width="1.90"/>
<rect x="1058.00" y="929.85" width="28.50" height="45.05" fill="#4a58e6" stroke="#717c7b" stroke-width="1.90"/>
<rect x="1086.50" y="929.85" width="28.50" height="45.05" fill="#0f12a4" stroke="#717c7b" stroke-width="1.90"/>
<rect x="1115.00" y="929.85" width="28.50" height="45.05" fill="#0f12a4" stroke="#717c7b" stroke-width="1.90"/>
<rect x="1152.40" y="929.85" width="28.50" height="45.05" fill="#9da7ea" stroke="#717c7b" stroke-width="1.90"/>
<rect x="1180.90" y="929.85" width="28.50" height="45.05" fill="#8b97e7" stroke="#717c7b" stroke-width="1.90"/>
<rect x="1209.40" y="929.85" width="28.50" height="45.05" fill="#939ee8" stroke="#717c7b" stroke-width="1.90"/>
<rect x="1237.90" y="929.85" width="28.50" height="45.05" fill="#9aa4e9" stroke="#717c7b" stroke-width="1.90"/>
<rect x="1275.30" y="929.85" width="28.50" height="45.05" fill="#4a58e6" stroke="#717c7b" stroke-width="1.90"/>
<rect x="1303.80" y="929.85" width="28.50" height="45.05" fill="#6c7ae4" stroke="#717c7b" stroke-width="1.90"/>
<rect x="1332.30" y="929.85" width="28.50" height="45.05" fill="#7c88e6" stroke="#717c7b" stroke-width="1.90"/>
<rect x="1360.80" y="929.85" width="28.50" height="45.05" fill="#3a47e7" stroke="#717c7b" stroke-width="1.90"/>
<rect x="1398.20" y="929.85" width="28.50" height="45.05" fill="#4a58e6" stroke="#717c7b" stroke-width="1.90"/>
<rect x="1426.70" y="929.85" width="28.50" height="45.05" fill="#1015b5" stroke="#717c7b" stroke-width="1.90"/>
<text x="1462.00" y="960.98" font-size="23.75">PAX8</text>
<rect x="1029.50" y="974.90" width="28.50" height="45.05" fill="#9aa4e9" stroke="#717c7b" stroke-width="1.90"/>
<rect x="1058.00" y="974.90" width="28.50" height="45.05" fill="#9aa4e9" stroke="#717c7b" stroke-width="1.90"/>
<rect x="1086.50" y="974.90" width="28.50" height="45.05" fill="#202de9" stroke="#717c7b" stroke-width="1.90"/>
<rect x="1115.00" y="974.90" width="28.50" height="45.05" fill="#4250e6" stroke="#717c7b" stroke-width="1.90"/>
<rect x="1152.40" y="974.90" width="28.50" height="45.05" fill="#7481e5" stroke="#717c7b" stroke-width="1.90"/>
<rect x="1180.90" y="974.90" width="28.50" height="45.05" fill="#6472e4" stroke="#717c7b" stroke-width="1.90"/>
<rect x="1209.40" y="974.90" width="28.50" height="45.05" fill="#6c7ae4" stroke="#717c7b" stroke-width="1.90"/>
<rect x="1237.90" y="974.90" width="28.50" height="45.05" fill="#8b97e7" stroke="#717c7b" stroke-width="1.90"/>
<rect x="1275.30" y="974.90" width="28.50" height="45.05" fill="#3a47e7" stroke="#717c7b" stroke-width="1.90"/>
<rect x="1303.80" y="974.90" width="28.50" height="45.05" fill="#4250e6" stroke="#717c7b" stroke-width="1.90"/>
<rect x="1332.30" y="974.90" width="28.50" height="45.05" fill="#5361e5" stroke="#717c7b" stroke-width="1.90"/>
<rect x="1360.80" y="974.90" width="28.50" height="45.05" fill="#1824ea" stroke="#717c7b" stroke-width="1.90"/>
<rect x="1398.20" y="974.90" width="28.50" height="45.05" fill="#2936e8" stroke="#717c7b" stroke-width="1.90"/>
<rect x="1426.70" y="974.90" width="28.50" height="45.05" fill="#1621e3" stroke="#717c7b" stroke-width="1.90"/>
<text x="1462.00" y="1006.02" font-size="23.75">PIK3CA</text>
<rect x="1029.50" y="1019.95" width="28.50" height="45.05" fill="#121bd3" stroke="#717c7b" stroke-width="1.90"/>
<rect x="1058.00" y="1019.95" width="28.50" height="45.05" fill="#1722e6" stroke="#717c7b" stroke-width="1.90"/>
<rect x="1086.50" y="1019.95" width="28.50" height="45.05" fill="#0f129f" stroke="#717c7b" stroke-width="1.90"/>
<rect x="1115.00" y="1019.95" width="28.50" height="45.05" fill="#0f129f" stroke="#717c7b" stroke-width="1.90"/>
<rect x="1152.40" y="1019.95" width="28.50" height="45.05" fill="#c7cef1" stroke="#717c7b" stroke-width="1.90"/>
<rect x="1180.90" y="1019.95" width="28.50" height="45.05" fill="#c3cbf0" stroke="#717c7b" stroke-width="1.90"/>
<rect x="1209.40" y="1019.95" width="28.50" height="45.05" fill="#adb7ec" stroke="#717c7b" stroke-width="1.90"/>
<rect x="1237.90" y="1019.95" width="28.50" height="45.05" fill="#c7cef1" stroke="#717c7b" stroke-width="1.90"/>
<rect x="1275.30" y="1019.95" width="28.50" height="45.05" fill="#9da7ea" stroke="#717c7b" stroke-width="1.90"/>
<rect x="1303.80" y="1019.95" width="28.50" height="45.05" fill="#adb7ec" stroke="#717c7b" stroke-width="1.90"/>
<rect x="1332.30" y="1019.95" width="28.50" height="45.05" fill="#bcc4ef" stroke="#717c7b" stroke-width="1.90"/>
<rect x="1360.80" y="1019.95" width="28.50" height="45.05" fill="#9aa4e9" stroke="#717c7b" stroke-width="1.90"/>
<rect x="1398.20" y="1019.95" width="28.50" height="45.05" fill="#9da7ea" stroke="#717c7b" stroke-width="1.90"/>
<rect x="1426.70" y="1019.95" width="28.50" height="45.05" fill="#8390e6" stroke="#717c7b" stroke-width="1.90"/>
<text x="1462.00" y="1051.08" font-size="23.75">XPR1</text>
<rect x="1029.50" y="203.80" width="28.50" height="24.20" fill="#52d2f6" stroke="#717c7b" stroke-width="1.90"/>
<rect x="1058.00" y="203.80" width="28.50" height="24.20" fill="#52d2f6" stroke="#717c7b" stroke-width="1.90"/>
<rect x="1086.50" y="203.80" width="28.50" height="24.20" fill="#62f01a" stroke="#717c7b" stroke-width="1.90"/>
<rect x="1115.00" y="203.80" width="28.50" height="24.20" fill="#62f01a" stroke="#717c7b" stroke-width="1.90"/>
<rect x="1152.40" y="203.80" width="28.50" height="24.20" fill="#42ea3c" stroke="#717c7b" stroke-width="1.90"/>
<rect x="1180.90" y="203.80" width="28.50" height="24.20" fill="#42ea3c" stroke="#717c7b" stroke-width="1.90"/>
<rect x="1209.40" y="203.80" width="28.50" height="24.20" fill="#42ea3c" stroke="#717c7b" stroke-width="1.90"/>
<rect x="1237.90" y="203.80" width="28.50" height="24.20" fill="#42ea3c" stroke="#717c7b" stroke-width="1.90"/>
<rect x="1275.30" y="203.80" width="28.50" height="24.20" fill="#f0527e" stroke="#717c7b" stroke-width="1.90"/>
<rect x="1303.80" y="203.80" width="28.50" height="24.20" fill="#f0527e" stroke="#717c7b" stroke-width="1.90"/>
<rect x="1332.30" y="203.80" width="28.50" height="24.20" fill="#f0527e" stroke="#717c7b" stroke-width="1.90"/>
<rect x="1360.80" y="203.80" width="28.50" height="24.20" fill="#f0527e" stroke="#717c7b" stroke-width="1.90"/>
<rect x="1398.20" y="203.80" width="28.50" height="24.20" fill="#9c72e8" stroke="#717c7b" stroke-width="1.90"/>
<rect x="1426.70" y="203.80" width="28.50" height="24.20" fill="#9c72e8" stroke="#717c7b" stroke-width="1.90"/>
<text x="1462.00" y="224.60" font-size="23.85" font-weight="bold">timepoint</text>
<rect x="998.80" y="234.70" width="24.90" height="45.08" fill="#da50e8" stroke="#717c7b" stroke-width="1.90"/>
<rect x="998.80" y="279.78" width="24.90" height="45.08" fill="#da50e8" stroke="#717c7b" stroke-width="1.90"/>
<rect x="998.80" y="324.86" width="24.90" height="45.08" fill="#da50e8" stroke="#717c7b" stroke-width="1.90"/>
<rect x="998.80" y="369.94" width="24.90" height="45.08" fill="#da50e8" stroke="#717c7b" stroke-width="1.90"/>
<rect x="998.80" y="415.02" width="24.90" height="45.08" fill="#da50e8" stroke="#717c7b" stroke-width="1.90"/>
<rect x="998.80" y="460.10" width="24.90" height="45.08" fill="#da50e8" stroke="#717c7b" stroke-width="1.90"/>
<rect x="998.80" y="505.18" width="24.90" height="45.08" fill="#da50e8" stroke="#717c7b" stroke-width="1.90"/>
<rect x="998.80" y="559.70" width="24.90" height="45.08" fill="#e4961a" stroke="#717c7b" stroke-width="1.90"/>
<rect x="998.80" y="604.78" width="24.90" height="45.08" fill="#e4961a" stroke="#717c7b" stroke-width="1.90"/>
<rect x="998.80" y="649.86" width="24.90" height="45.08" fill="#e4961a" stroke="#717c7b" stroke-width="1.90"/>
<rect x="998.80" y="704.60" width="24.90" height="45.05" fill="#48f0c0" stroke="#717c7b" stroke-width="1.90"/>
<rect x="998.80" y="749.65" width="24.90" height="45.05" fill="#48f0c0" stroke="#717c7b" stroke-width="1.90"/>
<rect x="998.80" y="794.70" width="24.90" height="45.05" fill="#48f0c0" stroke="#717c7b" stroke-width="1.90"/>
<rect x="998.80" y="839.75" width="24.90" height="45.05" fill="#48f0c0" stroke="#717c7b" stroke-width="1.90"/>
<rect x="998.80" y="884.80" width="24.90" height="45.05" fill="#48f0c0" stroke="#717c7b" stroke-width="1.90"/>
<rect x="998.80" y="929.85" width="24.90" height="45.05" fill="#48f0c0" stroke="#717c7b" stroke-width="1.90"/>
<rect x="998.80" y="974.90" width="24.90" height="45.05" fill="#48f0c0" stroke="#717c7b" stroke-width="1.90"/>
<rect x="998.80" y="1019.95" width="24.90" height="45.05" fill="#48f0c0" stroke="#717c7b" stroke-width="1.90"/>
<text x="1.4" y="29.2" font-size="35" font-weight="bold" textLength="16.4" lengthAdjust="spacingAndGlyphs">a</text>
<text x="30.9" y="63.4" font-size="34.3" textLength="100.5" lengthAdjust="spacingAndGlyphs">SNGM</text>
<text x="906.7" y="28.9" font-size="33" font-weight="bold" textLength="21.4" lengthAdjust="spacingAndGlyphs">b</text>
<text x="945.3" y="63.1" font-size="33.6" textLength="99.9" lengthAdjust="spacingAndGlyphs">OVISE</text>
<text x="193.60" y="200.45" font-size="25.00" transform="rotate(-38.50 193.60 200.45)" text-anchor="start" font-weight="normal">TC - 2 weeks</text>
<text x="260.30" y="202.65" font-size="25.00" transform="rotate(-38.50 260.30 202.65)" text-anchor="start" font-weight="normal">Tumor - 2 weeks</text>
<text x="357.00" y="200.45" font-size="25.00" transform="rotate(-38.50 357.00 200.45)" text-anchor="start" font-weight="normal">Tumor - 3 weeks</text>
<text x="482.10" y="196.15" font-size="25.00" transform="rotate(-38.50 482.10 196.15)" text-anchor="start" font-weight="normal">Tumor - 4 weeks</text>
<text x="1061.30" y="193.95" font-size="25.00" transform="rotate(-38.50 1061.30 193.95)" text-anchor="start" font-weight="normal">TC - 1 weeks</text>
<text x="1119.80" y="193.35" font-size="25.00" transform="rotate(-38.50 1119.80 193.35)" text-anchor="start" font-weight="normal">TC - 2 weeks</text>
<text x="1200.70" y="190.65" font-size="25.00" transform="rotate(-38.50 1200.70 190.65)" text-anchor="start" font-weight="normal">Tumor - 2 weeks</text>
<text x="1328.40" y="188.35" font-size="25.00" transform="rotate(-38.50 1328.40 188.35)" text-anchor="start" font-weight="normal">Tumor - 3 weeks</text>
<text x="1423.50" y="185.55" font-size="25.00" transform="rotate(-38.50 1423.50 185.55)" text-anchor="start" font-weight="normal">Tumor - 4 weeks</text>
<text x="130.90" y="365.30" font-size="27.80" text-anchor="middle" transform="rotate(-90 130.90 365.30)">Negative Control</text>
<text x="106.00" y="569.50" font-size="27.50" text-anchor="middle" transform="rotate(-90 106.00 569.50)">Pan-</text>
<text x="137.00" y="569.50" font-size="27.50" text-anchor="middle" transform="rotate(-90 137.00 569.50)">essential</text>
<text x="134.30" y="871.50" font-size="28.00" text-anchor="middle" transform="rotate(-90 134.30 871.50)">Experimental</text>
<text x="982.00" y="386.50" font-size="28.00" text-anchor="middle" transform="rotate(-90 982.00 386.50)">Negative Control</text>
<text x="956.50" y="629.00" font-size="27.50" text-anchor="middle" transform="rotate(-90 956.50 629.00)">Pan-</text>
<text x="985.50" y="629.00" font-size="27.50" text-anchor="middle" transform="rotate(-90 985.50 629.00)">essential</text>
<text x="984.20" y="886.80" font-size="28.00" text-anchor="middle" transform="rotate(-90 984.20 886.80)">Experimental</text>
<text x="642.00" y="345.00" font-size="24.90">Log<tspan font-size="14.94" dy="9.46">2</tspan><tspan dy="-9.46"> Fold Change</tspan></text>
<text x="642.00" y="375.00" font-size="24.90">from early timepoint</text>
<defs><linearGradient id="g727" x1="0" y1="0" x2="0" y2="1">
<stop offset="0.000" stop-color="#f2f4fa"/>
<stop offset="0.025" stop-color="#eceef8"/>
<stop offset="0.050" stop-color="#e5e9f7"/>
<stop offset="0.075" stop-color="#dee2f5"/>
<stop offset="0.100" stop-color="#d5dbf4"/>
<stop offset="0.125" stop-color="#cdd3f3"/>
<stop offset="0.150" stop-color="#c5cbf2"/>
<stop offset="0.175" stop-color="#bcc4f1"/>
<stop offset="0.200" stop-color="#b3bbf0"/>
<stop offset="0.225" stop-color="#aab2ef"/>
<stop offset="0.250" stop-color="#a0a8ee"/>
<stop offset="0.275" stop-color="#98a1ed"/>
<stop offset="0.300" stop-color="#909aec"/>
<stop offset="0.325" stop-color="#8892ec"/>
<stop offset="0.350" stop-color="#808beb"/>
<stop offset="0.375" stop-color="#7884ea"/>
<stop offset="0.400" stop-color="#707cea"/>
<stop offset="0.425" stop-color="#6774e9"/>
<stop offset="0.450" stop-color="#5f6ce9"/>
<stop offset="0.475" stop-color="#5664e8"/>
<stop offset="0.500" stop-color="#4e5ce8"/>
<stop offset="0.525" stop-color="#4755e9"/>
<stop offset="0.550" stop-color="#404eea"/>
<stop offset="0.575" stop-color="#3a48ea"/>
<stop offset="0.600" stop-color="#3341eb"/>
<stop offset="0.625" stop-color="#2c3aec"/>
<stop offset="0.650" stop-color="#2835ed"/>
<stop offset="0.675" stop-color="#2330ee"/>
<stop offset="0.700" stop-color="#1f2aee"/>
<stop offset="0.725" stop-color="#1a25ef"/>
<stop offset="0.750" stop-color="#1620f0"/>
<stop offset="0.775" stop-color="#161eea"/>
<stop offset="0.800" stop-color="#151de3"/>
<stop offset="0.825" stop-color="#151bdd"/>
<stop offset="0.850" stop-color="#141ad6"/>
<stop offset="0.875" stop-color="#1418d0"/>
<stop offset="0.900" stop-color="#1417c4"/>
<stop offset="0.925" stop-color="#1316b9"/>
<stop offset="0.950" stop-color="#1314ad"/>
<stop offset="0.975" stop-color="#1213a2"/>
<stop offset="1.000" stop-color="#121296"/>
</linearGradient></defs>
<rect x="727.10" y="399.00" width="17.60" height="293.60" fill="url(#g727)"/>
<text x="754.20" y="405.44" font-size="18.00">0</text>
<text x="754.20" y="478.84" font-size="18.00">-1</text>
<text x="754.20" y="552.24" font-size="18.00">-2</text>
<text x="754.20" y="625.64" font-size="18.00">-3</text>
<text x="754.20" y="699.04" font-size="18.00">-4</text>
<text x="1609.30" y="299.30" font-size="24.90">Log<tspan font-size="13.94" dy="8.47">2</tspan><tspan dy="-8.47"> Fold Change</tspan></text>
<text x="1609.30" y="329.00" font-size="24.90">from early timepoint</text>
<defs><linearGradient id="g1694" x1="0" y1="0" x2="0" y2="1">
<stop offset="0.000" stop-color="#f2f4fa"/>
<stop offset="0.025" stop-color="#eceef8"/>
<stop offset="0.050" stop-color="#e5e9f7"/>
<stop offset="0.075" stop-color="#dee2f5"/>
<stop offset="0.100" stop-color="#d5dbf4"/>
<stop offset="0.125" stop-color="#cdd3f3"/>
<stop offset="0.150" stop-color="#c5cbf2"/>
<stop offset="0.175" stop-color="#bcc4f1"/>
<stop offset="0.200" stop-color="#b3bbf0"/>
<stop offset="0.225" stop-color="#aab2ef"/>
<stop offset="0.250" stop-color="#a0a8ee"/>
<stop offset="0.275" stop-color="#98a1ed"/>
<stop offset="0.300" stop-color="#909aec"/>
<stop offset="0.325" stop-color="#8892ec"/>
<stop offset="0.350" stop-color="#808beb"/>
<stop offset="0.375" stop-color="#7884ea"/>
<stop offset="0.400" stop-color="#707cea"/>
<stop offset="0.425" stop-color="#6774e9"/>
<stop offset="0.450" stop-color="#5f6ce9"/>
<stop offset="0.475" stop-color="#5664e8"/>
<stop offset="0.500" stop-color="#4e5ce8"/>
<stop offset="0.525" stop-color="#4755e9"/>
<stop offset="0.550" stop-color="#404eea"/>
<stop offset="0.575" stop-color="#3a48ea"/>
<stop offset="0.600" stop-color="#3341eb"/>
<stop offset="0.625" stop-color="#2c3aec"/>
<stop offset="0.650" stop-color="#2835ed"/>
<stop offset="0.675" stop-color="#2330ee"/>
<stop offset="0.700" stop-color="#1f2aee"/>
<stop offset="0.725" stop-color="#1a25ef"/>
<stop offset="0.750" stop-color="#1620f0"/>
<stop offset="0.775" stop-color="#161eea"/>
<stop offset="0.800" stop-color="#151de3"/>
<stop offset="0.825" stop-color="#151bdd"/>
<stop offset="0.850" stop-color="#141ad6"/>
<stop offset="0.875" stop-color="#1418d0"/>
<stop offset="0.900" stop-color="#1417c4"/>
<stop offset="0.925" stop-color="#1316b9"/>
<stop offset="0.950" stop-color="#1314ad"/>
<stop offset="0.975" stop-color="#1213a2"/>
<stop offset="1.000" stop-color="#121296"/>
</linearGradient></defs>
<rect x="1694.20" y="353.30" width="18.80" height="293.20" fill="url(#g1694)"/>
<text x="1721.40" y="359.85" font-size="18.30">0</text>
<text x="1721.40" y="433.15" font-size="18.30">-1</text>
<text x="1721.40" y="506.45" font-size="18.30">-2</text>
<text x="1721.40" y="579.75" font-size="18.30">-3</text>
<text x="1721.40" y="653.05" font-size="18.30">-4</text>
<rect x="1001.8" y="1072.6" width="2.4" height="1.8" fill="#222"/>
<rect x="1045.8" y="1072.6" width="2.4" height="1.8" fill="#444"/>
<rect x="1074.0" y="1072.6" width="2.4" height="1.8" fill="#222"/>
<rect x="1102.4" y="1072.6" width="2.4" height="1.8" fill="#555"/>
<rect x="1130.7" y="1072.6" width="2.4" height="1.8" fill="#222"/>
<rect x="1221.9" y="1072.6" width="2.4" height="1.8" fill="#999"/>
<rect x="1250.1" y="1072.6" width="2.4" height="1.8" fill="#999"/>
<rect x="1337.3" y="1072.6" width="2.4" height="1.8" fill="#ccc"/>
<rect x="1364.2" y="1072.6" width="2.4" height="1.8" fill="#999"/>
<rect x="1408.1" y="1072.6" width="2.4" height="1.8" fill="#111"/>
<rect x="1436.3" y="1072.6" width="2.4" height="1.8" fill="#111"/>
</svg>
</body></html>
